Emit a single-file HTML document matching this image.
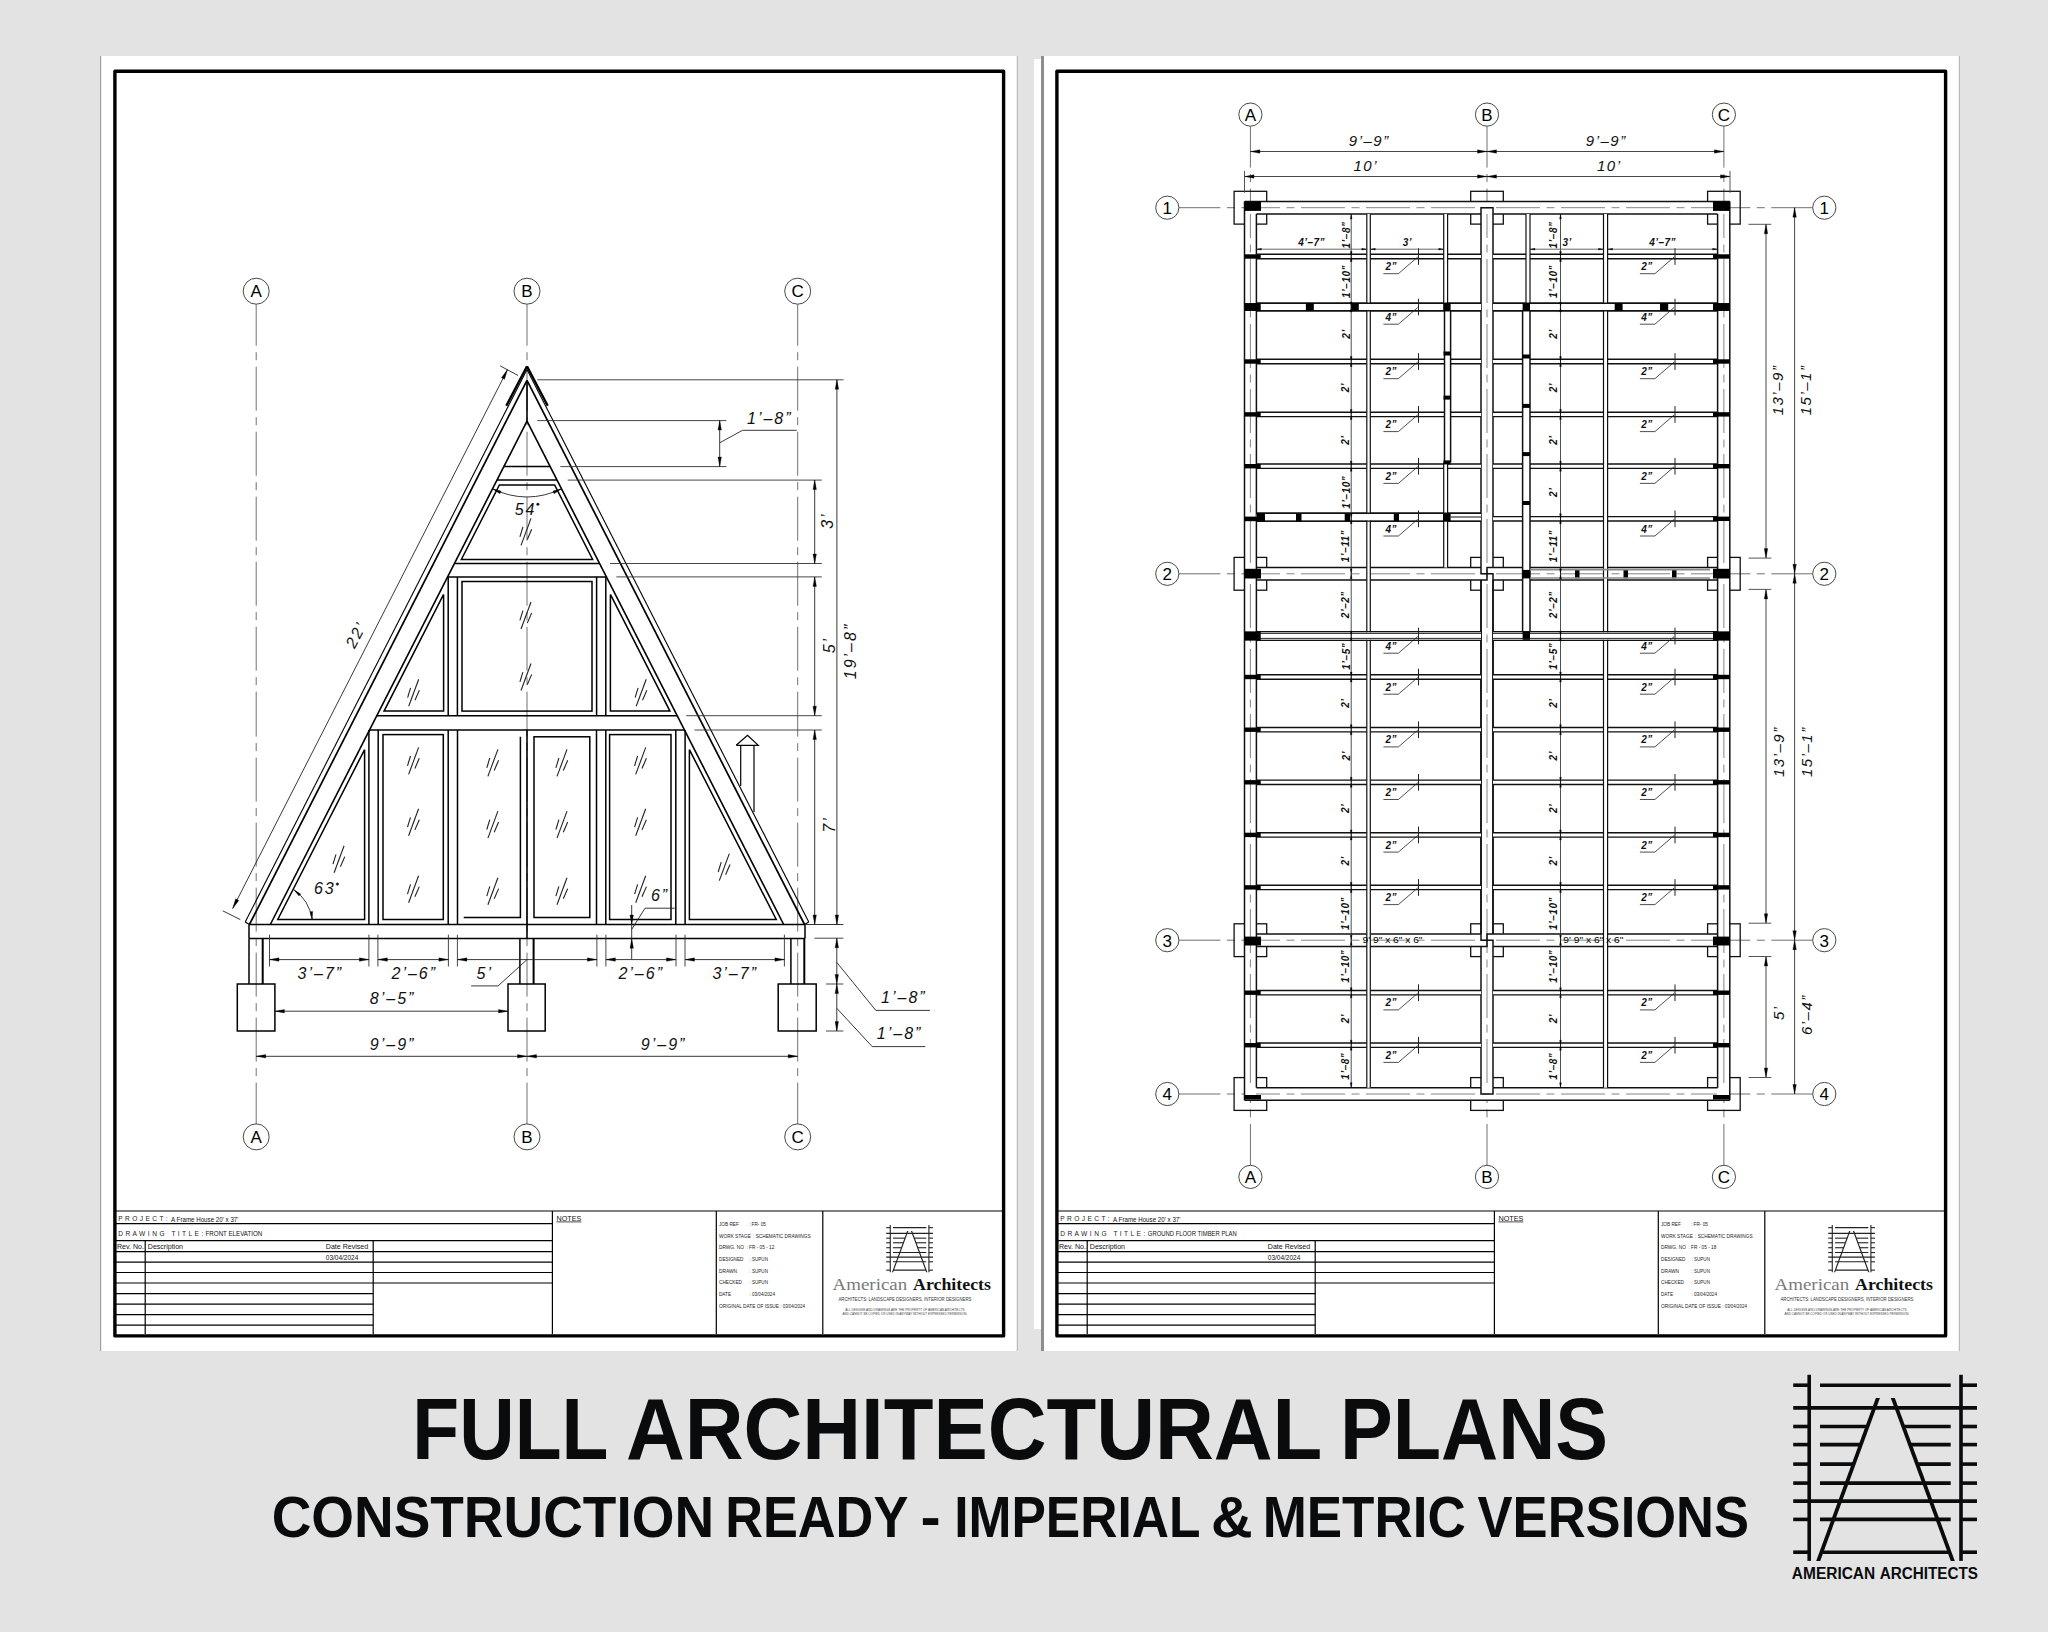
<!DOCTYPE html>
<html><head><meta charset="utf-8"><style>
html,body{margin:0;padding:0;background:#e3e3e3;width:2048px;height:1632px;overflow:hidden}
svg{display:block}
</style></head><body>
<svg width="2048" height="1632" viewBox="0 0 2048 1632">
<rect x="0" y="0" width="2048" height="1632" fill="#e3e3e3"/>
<rect x="101" y="56" width="916.5" height="1295" fill="#ffffff"/>
<line x1="100.6" y1="56" x2="100.6" y2="1351" stroke="#a0a0a0" stroke-width="1.2" />
<line x1="1017.3" y1="56" x2="1017.3" y2="1351" stroke="#b0b0b0" stroke-width="1" />
<rect x="1034" y="59" width="7" height="1270" fill="#ffffff"/>
<rect x="1044" y="56" width="915" height="1295" fill="#ffffff"/>
<line x1="1042.5" y1="56" x2="1042.5" y2="1351" stroke="#8e8e8e" stroke-width="3" />
<line x1="1959.3" y1="56" x2="1959.3" y2="1351" stroke="#b0b0b0" stroke-width="1" />
<rect x="114.9" y="71.2" width="888.7" height="1264.7" fill="none" stroke="#000" stroke-width="3.4" stroke-linejoin="round"/>
<line x1="116" y1="1211" x2="1002" y2="1211" stroke="#000" stroke-width="1.2" />
<line x1="116" y1="1223.7" x2="552.4" y2="1223.7" stroke="#000" stroke-width="1.2" />
<line x1="116" y1="1240.6" x2="552.4" y2="1240.6" stroke="#000" stroke-width="1.2" />
<line x1="116" y1="1251.6" x2="552.4" y2="1251.6" stroke="#000" stroke-width="1.2" />
<line x1="116" y1="1262.2" x2="552.4" y2="1262.2" stroke="#000" stroke-width="1.2" />
<line x1="116" y1="1272.5" x2="552.4" y2="1272.5" stroke="#000" stroke-width="1.2" />
<line x1="116" y1="1283" x2="552.4" y2="1283" stroke="#000" stroke-width="1.2" />
<line x1="116" y1="1293.6" x2="373.2" y2="1293.6" stroke="#000" stroke-width="1.2" />
<line x1="116" y1="1304.2" x2="373.2" y2="1304.2" stroke="#000" stroke-width="1.2" />
<line x1="116" y1="1314.7" x2="373.2" y2="1314.7" stroke="#000" stroke-width="1.2" />
<line x1="116" y1="1325.2" x2="373.2" y2="1325.2" stroke="#000" stroke-width="1.2" />
<line x1="145.2" y1="1240.6" x2="145.2" y2="1334" stroke="#000" stroke-width="1.2" />
<line x1="373.2" y1="1240.6" x2="373.2" y2="1334" stroke="#000" stroke-width="1.2" />
<line x1="552.4" y1="1211" x2="552.4" y2="1334" stroke="#000" stroke-width="1.2" />
<line x1="716.3" y1="1211" x2="716.3" y2="1334" stroke="#000" stroke-width="1.2" />
<line x1="822.8" y1="1211" x2="822.8" y2="1334" stroke="#000" stroke-width="1.2" />
<text x="118.3" y="1218.8" font-family="Liberation Sans" font-size="6.6" font-weight="normal" fill="#222" textLength="49.3" lengthAdjust="spacing" dominant-baseline="central" xml:space="preserve">P R O J E C T :</text>
<text x="171.1" y="1219" font-family="Liberation Sans" font-size="7" font-weight="normal" fill="#111" textLength="67.4" lengthAdjust="spacingAndGlyphs" dominant-baseline="central" xml:space="preserve">A Frame House 20' x 37'</text>
<text x="118.3" y="1233" font-family="Liberation Sans" font-size="6.6" font-weight="normal" fill="#222" textLength="85" lengthAdjust="spacing" dominant-baseline="central" xml:space="preserve">D R A W I N G   T I T L E :</text>
<text x="205.6" y="1233.3" font-family="Liberation Sans" font-size="6.6" font-weight="normal" fill="#111" textLength="56.7" lengthAdjust="spacingAndGlyphs" dominant-baseline="central" xml:space="preserve">FRONT ELEVATION</text>
<text x="117" y="1246.1" font-family="Liberation Sans" font-size="7.4" font-weight="normal" fill="#111" textLength="27" lengthAdjust="spacingAndGlyphs" dominant-baseline="central" xml:space="preserve">Rev. No.</text>
<text x="147.8" y="1246.1" font-family="Liberation Sans" font-size="7.4" font-weight="normal" fill="#111" textLength="35.2" lengthAdjust="spacingAndGlyphs" dominant-baseline="central" xml:space="preserve">Description</text>
<text x="325.8" y="1246.6" font-family="Liberation Sans" font-size="7.4" font-weight="normal" fill="#111" textLength="42.4" lengthAdjust="spacingAndGlyphs" dominant-baseline="central" xml:space="preserve">Date Revised</text>
<text x="325.8" y="1257.1" font-family="Liberation Sans" font-size="6.8" font-weight="normal" fill="#111" textLength="32.5" lengthAdjust="spacingAndGlyphs" dominant-baseline="central" xml:space="preserve">03/04/2024</text>
<text x="556.5" y="1218.4" font-family="Liberation Sans" font-size="7.4" font-weight="normal" fill="#111" textLength="24.8" lengthAdjust="spacingAndGlyphs" dominant-baseline="central" xml:space="preserve">NOTES</text>
<line x1="556.5" y1="1221.9" x2="581.3" y2="1221.9" stroke="#222" stroke-width="0.8" />
<text x="719" y="1223.8" font-family="Liberation Sans" font-size="5.2" font-weight="normal" fill="#222" textLength="19.8" lengthAdjust="spacingAndGlyphs" dominant-baseline="central" xml:space="preserve">JOB REF</text>
<text x="749" y="1223.8" font-family="Liberation Sans" font-size="5.2" font-weight="normal" fill="#222" textLength="16.9" lengthAdjust="spacingAndGlyphs" dominant-baseline="central" xml:space="preserve">: FR- 05</text>
<text x="719" y="1235.5" font-family="Liberation Sans" font-size="5.2" font-weight="normal" fill="#222" textLength="31.9" lengthAdjust="spacingAndGlyphs" dominant-baseline="central" xml:space="preserve">WORK STAGE</text>
<text x="753" y="1235.5" font-family="Liberation Sans" font-size="5.2" font-weight="normal" fill="#222" textLength="57.6" lengthAdjust="spacingAndGlyphs" dominant-baseline="central" xml:space="preserve">: SCHEMATIC DRAWINGS</text>
<text x="719" y="1247.4" font-family="Liberation Sans" font-size="5.2" font-weight="normal" fill="#222" textLength="24.9" lengthAdjust="spacingAndGlyphs" dominant-baseline="central" xml:space="preserve">DRWG. NO</text>
<text x="746.5" y="1247.4" font-family="Liberation Sans" font-size="5.2" font-weight="normal" fill="#222" textLength="27.8" lengthAdjust="spacingAndGlyphs" dominant-baseline="central" xml:space="preserve">: FR - 05 - 12</text>
<text x="719" y="1259" font-family="Liberation Sans" font-size="5.2" font-weight="normal" fill="#222" textLength="24.5" lengthAdjust="spacingAndGlyphs" dominant-baseline="central" xml:space="preserve">DESIGNED</text>
<text x="749.4" y="1259" font-family="Liberation Sans" font-size="5.2" font-weight="normal" fill="#222" textLength="18.6" lengthAdjust="spacingAndGlyphs" dominant-baseline="central" xml:space="preserve">: SUPUN</text>
<text x="719" y="1270.6" font-family="Liberation Sans" font-size="5.2" font-weight="normal" fill="#222" textLength="18" lengthAdjust="spacingAndGlyphs" dominant-baseline="central" xml:space="preserve">DRAWN</text>
<text x="749.4" y="1270.6" font-family="Liberation Sans" font-size="5.2" font-weight="normal" fill="#222" textLength="18.6" lengthAdjust="spacingAndGlyphs" dominant-baseline="central" xml:space="preserve">: SUPUN</text>
<text x="719" y="1282.4" font-family="Liberation Sans" font-size="5.2" font-weight="normal" fill="#222" textLength="23" lengthAdjust="spacingAndGlyphs" dominant-baseline="central" xml:space="preserve">CHECKED</text>
<text x="749.4" y="1282.4" font-family="Liberation Sans" font-size="5.2" font-weight="normal" fill="#222" textLength="18.6" lengthAdjust="spacingAndGlyphs" dominant-baseline="central" xml:space="preserve">: SUPUN</text>
<text x="719" y="1294.1" font-family="Liberation Sans" font-size="5.2" font-weight="normal" fill="#222" textLength="12" lengthAdjust="spacingAndGlyphs" dominant-baseline="central" xml:space="preserve">DATE</text>
<text x="749.4" y="1294.1" font-family="Liberation Sans" font-size="5.2" font-weight="normal" fill="#222" textLength="25.6" lengthAdjust="spacingAndGlyphs" dominant-baseline="central" xml:space="preserve">: 03/04/2024</text>
<text x="719" y="1305.7" font-family="Liberation Sans" font-size="5.2" font-weight="normal" fill="#222" textLength="60" lengthAdjust="spacingAndGlyphs" dominant-baseline="central" xml:space="preserve">ORIGINAL DATE OF ISSUE</text>
<text x="780.2" y="1305.7" font-family="Liberation Sans" font-size="5.2" font-weight="normal" fill="#222" textLength="24.8" lengthAdjust="spacingAndGlyphs" dominant-baseline="central" xml:space="preserve">: 03/04/2024</text>
<line x1="890.27" y1="1225" x2="890.27" y2="1272.36" stroke="#222" stroke-width="1.1" />
<line x1="928.91" y1="1225" x2="928.91" y2="1272.36" stroke="#222" stroke-width="1.1" />
<line x1="886.2" y1="1227.65" x2="890.27" y2="1227.65" stroke="#222" stroke-width="1.1" />
<line x1="928.91" y1="1227.65" x2="932.98" y2="1227.65" stroke="#222" stroke-width="1.1" />
<line x1="893.02" y1="1227.65" x2="926.28" y2="1227.65" stroke="#222" stroke-width="1.1" />
<line x1="886.2" y1="1233.42" x2="932.98" y2="1233.42" stroke="#222" stroke-width="1.1" />
<line x1="886.2" y1="1238.16" x2="890.27" y2="1238.16" stroke="#222" stroke-width="1.1" />
<line x1="928.91" y1="1238.16" x2="932.98" y2="1238.16" stroke="#222" stroke-width="1.1" />
<line x1="893.02" y1="1238.16" x2="905.11" y2="1238.16" stroke="#222" stroke-width="1.1" />
<line x1="914.21" y1="1238.16" x2="926.28" y2="1238.16" stroke="#222" stroke-width="1.1" />
<line x1="886.2" y1="1242.76" x2="890.27" y2="1242.76" stroke="#222" stroke-width="1.1" />
<line x1="928.91" y1="1242.76" x2="932.98" y2="1242.76" stroke="#222" stroke-width="1.1" />
<line x1="893.02" y1="1242.76" x2="903.42" y2="1242.76" stroke="#222" stroke-width="1.1" />
<line x1="915.91" y1="1242.76" x2="926.28" y2="1242.76" stroke="#222" stroke-width="1.1" />
<line x1="886.2" y1="1247.73" x2="890.27" y2="1247.73" stroke="#222" stroke-width="1.1" />
<line x1="928.91" y1="1247.73" x2="932.98" y2="1247.73" stroke="#222" stroke-width="1.1" />
<line x1="893.02" y1="1247.73" x2="901.6" y2="1247.73" stroke="#222" stroke-width="1.1" />
<line x1="917.74" y1="1247.73" x2="926.28" y2="1247.73" stroke="#222" stroke-width="1.1" />
<line x1="886.2" y1="1252.56" x2="890.27" y2="1252.56" stroke="#222" stroke-width="1.1" />
<line x1="928.91" y1="1252.56" x2="932.98" y2="1252.56" stroke="#222" stroke-width="1.1" />
<line x1="893.02" y1="1252.56" x2="926.28" y2="1252.56" stroke="#222" stroke-width="1.1" />
<line x1="886.2" y1="1257.14" x2="932.98" y2="1257.14" stroke="#222" stroke-width="1.1" />
<line x1="886.2" y1="1261.8" x2="890.27" y2="1261.8" stroke="#222" stroke-width="1.1" />
<line x1="928.91" y1="1261.8" x2="932.98" y2="1261.8" stroke="#222" stroke-width="1.1" />
<line x1="893.02" y1="1261.8" x2="926.28" y2="1261.8" stroke="#222" stroke-width="1.1" />
<line x1="886.2" y1="1270.15" x2="890.27" y2="1270.15" stroke="#222" stroke-width="1.1" />
<line x1="928.91" y1="1270.15" x2="932.98" y2="1270.15" stroke="#222" stroke-width="1.1" />
<line x1="893.37" y1="1270.15" x2="926" y2="1270.15" stroke="#222" stroke-width="1.1" />
<polygon points="907.14,1230.93 908.37,1230.93 893.18,1272.36 891.95,1272.36" fill="#222" stroke="#222" stroke-width="0.01" />
<polygon points="910.93,1230.93 912.16,1230.93 927.43,1272.36 926.2,1272.36" fill="#222" stroke="#222" stroke-width="0.01" />
<text x="832.6" y="1290" font-family="Liberation Serif" font-size="16.2" fill="#7a7a7a" textLength="74.6" lengthAdjust="spacingAndGlyphs">American</text>
<text x="913" y="1290" font-family="Liberation Serif" font-weight="bold" font-size="16.2" fill="#111" textLength="78" lengthAdjust="spacingAndGlyphs">Architects</text>
<text x="838.4" y="1299.8" font-family="Liberation Sans" font-size="4.6" font-weight="normal" fill="#333" textLength="133.1" lengthAdjust="spacingAndGlyphs" dominant-baseline="central" xml:space="preserve">ARCHITECTS: LANDSCAPE DESIGNERS, INTERIOR DESIGNERS</text>
<text x="845.3" y="1309.5" font-family="Liberation Sans" font-size="3.4" font-weight="normal" fill="#444" textLength="119.3" lengthAdjust="spacingAndGlyphs" dominant-baseline="central" xml:space="preserve">ALL DESIGNS AND DRAWINGS ARE THE PROPERTY OF AMERICAN ARCHITECTS</text>
<text x="842.5" y="1314.1" font-family="Liberation Sans" font-size="3.4" font-weight="normal" fill="#444" textLength="124.9" lengthAdjust="spacingAndGlyphs" dominant-baseline="central" xml:space="preserve">AND CANNOT BE COPIED OR USED IN ANYWAY WITHOUT EXPRESSED PERMISSION.</text>
<rect x="1056.9" y="71.2" width="888.7" height="1264.7" fill="none" stroke="#000" stroke-width="3.4" stroke-linejoin="round"/>
<line x1="1058" y1="1211" x2="1944" y2="1211" stroke="#000" stroke-width="1.2" />
<line x1="1058" y1="1223.7" x2="1494.4" y2="1223.7" stroke="#000" stroke-width="1.2" />
<line x1="1058" y1="1240.6" x2="1494.4" y2="1240.6" stroke="#000" stroke-width="1.2" />
<line x1="1058" y1="1251.6" x2="1494.4" y2="1251.6" stroke="#000" stroke-width="1.2" />
<line x1="1058" y1="1262.2" x2="1494.4" y2="1262.2" stroke="#000" stroke-width="1.2" />
<line x1="1058" y1="1272.5" x2="1494.4" y2="1272.5" stroke="#000" stroke-width="1.2" />
<line x1="1058" y1="1283" x2="1494.4" y2="1283" stroke="#000" stroke-width="1.2" />
<line x1="1058" y1="1293.6" x2="1315.2" y2="1293.6" stroke="#000" stroke-width="1.2" />
<line x1="1058" y1="1304.2" x2="1315.2" y2="1304.2" stroke="#000" stroke-width="1.2" />
<line x1="1058" y1="1314.7" x2="1315.2" y2="1314.7" stroke="#000" stroke-width="1.2" />
<line x1="1058" y1="1325.2" x2="1315.2" y2="1325.2" stroke="#000" stroke-width="1.2" />
<line x1="1087.2" y1="1240.6" x2="1087.2" y2="1334" stroke="#000" stroke-width="1.2" />
<line x1="1315.2" y1="1240.6" x2="1315.2" y2="1334" stroke="#000" stroke-width="1.2" />
<line x1="1494.4" y1="1211" x2="1494.4" y2="1334" stroke="#000" stroke-width="1.2" />
<line x1="1658.3" y1="1211" x2="1658.3" y2="1334" stroke="#000" stroke-width="1.2" />
<line x1="1764.8" y1="1211" x2="1764.8" y2="1334" stroke="#000" stroke-width="1.2" />
<text x="1060.3" y="1218.8" font-family="Liberation Sans" font-size="6.6" font-weight="normal" fill="#222" textLength="49.3" lengthAdjust="spacing" dominant-baseline="central" xml:space="preserve">P R O J E C T :</text>
<text x="1113.1" y="1219" font-family="Liberation Sans" font-size="7" font-weight="normal" fill="#111" textLength="67.4" lengthAdjust="spacingAndGlyphs" dominant-baseline="central" xml:space="preserve">A Frame House 20' x 37'</text>
<text x="1060.3" y="1233" font-family="Liberation Sans" font-size="6.6" font-weight="normal" fill="#222" textLength="85" lengthAdjust="spacing" dominant-baseline="central" xml:space="preserve">D R A W I N G   T I T L E :</text>
<text x="1147.8" y="1233.3" font-family="Liberation Sans" font-size="6.6" font-weight="normal" fill="#111" textLength="89" lengthAdjust="spacingAndGlyphs" dominant-baseline="central" xml:space="preserve">GROUND FLOOR TIMBER PLAN</text>
<text x="1059" y="1246.1" font-family="Liberation Sans" font-size="7.4" font-weight="normal" fill="#111" textLength="27" lengthAdjust="spacingAndGlyphs" dominant-baseline="central" xml:space="preserve">Rev. No.</text>
<text x="1089.8" y="1246.1" font-family="Liberation Sans" font-size="7.4" font-weight="normal" fill="#111" textLength="35.2" lengthAdjust="spacingAndGlyphs" dominant-baseline="central" xml:space="preserve">Description</text>
<text x="1267.8" y="1246.6" font-family="Liberation Sans" font-size="7.4" font-weight="normal" fill="#111" textLength="42.4" lengthAdjust="spacingAndGlyphs" dominant-baseline="central" xml:space="preserve">Date Revised</text>
<text x="1267.8" y="1257.1" font-family="Liberation Sans" font-size="6.8" font-weight="normal" fill="#111" textLength="32.5" lengthAdjust="spacingAndGlyphs" dominant-baseline="central" xml:space="preserve">03/04/2024</text>
<text x="1498.5" y="1218.4" font-family="Liberation Sans" font-size="7.4" font-weight="normal" fill="#111" textLength="24.8" lengthAdjust="spacingAndGlyphs" dominant-baseline="central" xml:space="preserve">NOTES</text>
<line x1="1498.5" y1="1221.9" x2="1523.3" y2="1221.9" stroke="#222" stroke-width="0.8" />
<text x="1661" y="1223.8" font-family="Liberation Sans" font-size="5.2" font-weight="normal" fill="#222" textLength="19.8" lengthAdjust="spacingAndGlyphs" dominant-baseline="central" xml:space="preserve">JOB REF</text>
<text x="1691" y="1223.8" font-family="Liberation Sans" font-size="5.2" font-weight="normal" fill="#222" textLength="16.9" lengthAdjust="spacingAndGlyphs" dominant-baseline="central" xml:space="preserve">: FR- 05</text>
<text x="1661" y="1235.5" font-family="Liberation Sans" font-size="5.2" font-weight="normal" fill="#222" textLength="31.9" lengthAdjust="spacingAndGlyphs" dominant-baseline="central" xml:space="preserve">WORK STAGE</text>
<text x="1695" y="1235.5" font-family="Liberation Sans" font-size="5.2" font-weight="normal" fill="#222" textLength="57.6" lengthAdjust="spacingAndGlyphs" dominant-baseline="central" xml:space="preserve">: SCHEMATIC DRAWINGS</text>
<text x="1661" y="1247.4" font-family="Liberation Sans" font-size="5.2" font-weight="normal" fill="#222" textLength="24.9" lengthAdjust="spacingAndGlyphs" dominant-baseline="central" xml:space="preserve">DRWG. NO</text>
<text x="1688.5" y="1247.4" font-family="Liberation Sans" font-size="5.2" font-weight="normal" fill="#222" textLength="27.8" lengthAdjust="spacingAndGlyphs" dominant-baseline="central" xml:space="preserve">: FR - 05 - 18</text>
<text x="1661" y="1259" font-family="Liberation Sans" font-size="5.2" font-weight="normal" fill="#222" textLength="24.5" lengthAdjust="spacingAndGlyphs" dominant-baseline="central" xml:space="preserve">DESIGNED</text>
<text x="1691.4" y="1259" font-family="Liberation Sans" font-size="5.2" font-weight="normal" fill="#222" textLength="18.6" lengthAdjust="spacingAndGlyphs" dominant-baseline="central" xml:space="preserve">: SUPUN</text>
<text x="1661" y="1270.6" font-family="Liberation Sans" font-size="5.2" font-weight="normal" fill="#222" textLength="18" lengthAdjust="spacingAndGlyphs" dominant-baseline="central" xml:space="preserve">DRAWN</text>
<text x="1691.4" y="1270.6" font-family="Liberation Sans" font-size="5.2" font-weight="normal" fill="#222" textLength="18.6" lengthAdjust="spacingAndGlyphs" dominant-baseline="central" xml:space="preserve">: SUPUN</text>
<text x="1661" y="1282.4" font-family="Liberation Sans" font-size="5.2" font-weight="normal" fill="#222" textLength="23" lengthAdjust="spacingAndGlyphs" dominant-baseline="central" xml:space="preserve">CHECKED</text>
<text x="1691.4" y="1282.4" font-family="Liberation Sans" font-size="5.2" font-weight="normal" fill="#222" textLength="18.6" lengthAdjust="spacingAndGlyphs" dominant-baseline="central" xml:space="preserve">: SUPUN</text>
<text x="1661" y="1294.1" font-family="Liberation Sans" font-size="5.2" font-weight="normal" fill="#222" textLength="12" lengthAdjust="spacingAndGlyphs" dominant-baseline="central" xml:space="preserve">DATE</text>
<text x="1691.4" y="1294.1" font-family="Liberation Sans" font-size="5.2" font-weight="normal" fill="#222" textLength="25.6" lengthAdjust="spacingAndGlyphs" dominant-baseline="central" xml:space="preserve">: 03/04/2024</text>
<text x="1661" y="1305.7" font-family="Liberation Sans" font-size="5.2" font-weight="normal" fill="#222" textLength="60" lengthAdjust="spacingAndGlyphs" dominant-baseline="central" xml:space="preserve">ORIGINAL DATE OF ISSUE</text>
<text x="1722.2" y="1305.7" font-family="Liberation Sans" font-size="5.2" font-weight="normal" fill="#222" textLength="24.8" lengthAdjust="spacingAndGlyphs" dominant-baseline="central" xml:space="preserve">: 03/04/2024</text>
<line x1="1832.27" y1="1225" x2="1832.27" y2="1272.36" stroke="#222" stroke-width="1.1" />
<line x1="1870.91" y1="1225" x2="1870.91" y2="1272.36" stroke="#222" stroke-width="1.1" />
<line x1="1828.2" y1="1227.65" x2="1832.27" y2="1227.65" stroke="#222" stroke-width="1.1" />
<line x1="1870.91" y1="1227.65" x2="1874.98" y2="1227.65" stroke="#222" stroke-width="1.1" />
<line x1="1835.02" y1="1227.65" x2="1868.28" y2="1227.65" stroke="#222" stroke-width="1.1" />
<line x1="1828.2" y1="1233.42" x2="1874.98" y2="1233.42" stroke="#222" stroke-width="1.1" />
<line x1="1828.2" y1="1238.16" x2="1832.27" y2="1238.16" stroke="#222" stroke-width="1.1" />
<line x1="1870.91" y1="1238.16" x2="1874.98" y2="1238.16" stroke="#222" stroke-width="1.1" />
<line x1="1835.02" y1="1238.16" x2="1847.11" y2="1238.16" stroke="#222" stroke-width="1.1" />
<line x1="1856.21" y1="1238.16" x2="1868.28" y2="1238.16" stroke="#222" stroke-width="1.1" />
<line x1="1828.2" y1="1242.76" x2="1832.27" y2="1242.76" stroke="#222" stroke-width="1.1" />
<line x1="1870.91" y1="1242.76" x2="1874.98" y2="1242.76" stroke="#222" stroke-width="1.1" />
<line x1="1835.02" y1="1242.76" x2="1845.42" y2="1242.76" stroke="#222" stroke-width="1.1" />
<line x1="1857.91" y1="1242.76" x2="1868.28" y2="1242.76" stroke="#222" stroke-width="1.1" />
<line x1="1828.2" y1="1247.73" x2="1832.27" y2="1247.73" stroke="#222" stroke-width="1.1" />
<line x1="1870.91" y1="1247.73" x2="1874.98" y2="1247.73" stroke="#222" stroke-width="1.1" />
<line x1="1835.02" y1="1247.73" x2="1843.6" y2="1247.73" stroke="#222" stroke-width="1.1" />
<line x1="1859.74" y1="1247.73" x2="1868.28" y2="1247.73" stroke="#222" stroke-width="1.1" />
<line x1="1828.2" y1="1252.56" x2="1832.27" y2="1252.56" stroke="#222" stroke-width="1.1" />
<line x1="1870.91" y1="1252.56" x2="1874.98" y2="1252.56" stroke="#222" stroke-width="1.1" />
<line x1="1835.02" y1="1252.56" x2="1868.28" y2="1252.56" stroke="#222" stroke-width="1.1" />
<line x1="1828.2" y1="1257.14" x2="1874.98" y2="1257.14" stroke="#222" stroke-width="1.1" />
<line x1="1828.2" y1="1261.8" x2="1832.27" y2="1261.8" stroke="#222" stroke-width="1.1" />
<line x1="1870.91" y1="1261.8" x2="1874.98" y2="1261.8" stroke="#222" stroke-width="1.1" />
<line x1="1835.02" y1="1261.8" x2="1868.28" y2="1261.8" stroke="#222" stroke-width="1.1" />
<line x1="1828.2" y1="1270.15" x2="1832.27" y2="1270.15" stroke="#222" stroke-width="1.1" />
<line x1="1870.91" y1="1270.15" x2="1874.98" y2="1270.15" stroke="#222" stroke-width="1.1" />
<line x1="1835.37" y1="1270.15" x2="1868" y2="1270.15" stroke="#222" stroke-width="1.1" />
<polygon points="1849.14,1230.93 1850.37,1230.93 1835.18,1272.36 1833.95,1272.36" fill="#222" stroke="#222" stroke-width="0.01" />
<polygon points="1852.93,1230.93 1854.16,1230.93 1869.43,1272.36 1868.2,1272.36" fill="#222" stroke="#222" stroke-width="0.01" />
<text x="1774.6" y="1290" font-family="Liberation Serif" font-size="16.2" fill="#7a7a7a" textLength="74.6" lengthAdjust="spacingAndGlyphs">American</text>
<text x="1855" y="1290" font-family="Liberation Serif" font-weight="bold" font-size="16.2" fill="#111" textLength="78" lengthAdjust="spacingAndGlyphs">Architects</text>
<text x="1780.4" y="1299.8" font-family="Liberation Sans" font-size="4.6" font-weight="normal" fill="#333" textLength="133.1" lengthAdjust="spacingAndGlyphs" dominant-baseline="central" xml:space="preserve">ARCHITECTS: LANDSCAPE DESIGNERS, INTERIOR DESIGNERS</text>
<text x="1787.3" y="1309.5" font-family="Liberation Sans" font-size="3.4" font-weight="normal" fill="#444" textLength="119.3" lengthAdjust="spacingAndGlyphs" dominant-baseline="central" xml:space="preserve">ALL DESIGNS AND DRAWINGS ARE THE PROPERTY OF AMERICAN ARCHITECTS</text>
<text x="1784.5" y="1314.1" font-family="Liberation Sans" font-size="3.4" font-weight="normal" fill="#444" textLength="124.9" lengthAdjust="spacingAndGlyphs" dominant-baseline="central" xml:space="preserve">AND CANNOT BE COPIED OR USED IN ANYWAY WITHOUT EXPRESSED PERMISSION.</text>
<line x1="256.2" y1="304.3" x2="256.2" y2="714.15" stroke="#707070" stroke-width="1" stroke-dasharray="44 6.5 8 6.5" stroke-dashoffset="2.6"/>
<line x1="256.2" y1="1124" x2="256.2" y2="714.15" stroke="#707070" stroke-width="1" stroke-dasharray="44 6.5 8 6.5" stroke-dashoffset="2.6"/>
<circle cx="256.2" cy="291.2" r="13" fill="#fff" stroke="#333" stroke-width="0.9"/>
<text x="256.2" y="291.8" font-family="Liberation Sans" font-size="17" font-weight="normal" font-style="normal" text-anchor="middle" dominant-baseline="central" fill="#000" >A</text>
<circle cx="256.2" cy="1136.9" r="13" fill="#fff" stroke="#333" stroke-width="0.9"/>
<text x="256.2" y="1137.5" font-family="Liberation Sans" font-size="17" font-weight="normal" font-style="normal" text-anchor="middle" dominant-baseline="central" fill="#000" >A</text>
<line x1="527" y1="304.3" x2="527" y2="714.15" stroke="#707070" stroke-width="1" stroke-dasharray="44 6.5 8 6.5" stroke-dashoffset="2.6"/>
<line x1="527" y1="1124" x2="527" y2="714.15" stroke="#707070" stroke-width="1" stroke-dasharray="44 6.5 8 6.5" stroke-dashoffset="2.6"/>
<circle cx="527" cy="291.2" r="13" fill="#fff" stroke="#333" stroke-width="0.9"/>
<text x="527" y="291.8" font-family="Liberation Sans" font-size="17" font-weight="normal" font-style="normal" text-anchor="middle" dominant-baseline="central" fill="#000" >B</text>
<circle cx="527" cy="1136.9" r="13" fill="#fff" stroke="#333" stroke-width="0.9"/>
<text x="527" y="1137.5" font-family="Liberation Sans" font-size="17" font-weight="normal" font-style="normal" text-anchor="middle" dominant-baseline="central" fill="#000" >B</text>
<line x1="797.7" y1="304.3" x2="797.7" y2="714.15" stroke="#707070" stroke-width="1" stroke-dasharray="44 6.5 8 6.5" stroke-dashoffset="2.6"/>
<line x1="797.7" y1="1124" x2="797.7" y2="714.15" stroke="#707070" stroke-width="1" stroke-dasharray="44 6.5 8 6.5" stroke-dashoffset="2.6"/>
<circle cx="797.7" cy="291.2" r="13" fill="#fff" stroke="#333" stroke-width="0.9"/>
<text x="797.7" y="291.8" font-family="Liberation Sans" font-size="17" font-weight="normal" font-style="normal" text-anchor="middle" dominant-baseline="central" fill="#000" >C</text>
<circle cx="797.7" cy="1136.9" r="13" fill="#fff" stroke="#333" stroke-width="0.9"/>
<text x="797.7" y="1137.5" font-family="Liberation Sans" font-size="17" font-weight="normal" font-style="normal" text-anchor="middle" dominant-baseline="central" fill="#000" >C</text>
<polyline points="245.23,922 527,369.5" fill="none" stroke="#000" stroke-width="1.1" />
<polyline points="808.77,922 527,369.5" fill="none" stroke="#000" stroke-width="1.1" />
<polyline points="245.23,922 249.46,924.5" fill="none" stroke="#000" stroke-width="1.1" />
<polyline points="808.77,922 804.54,924.5" fill="none" stroke="#000" stroke-width="1.1" />
<polyline points="249.46,924.5 527,380.3" fill="none" stroke="#000" stroke-width="1.7" />
<polyline points="804.54,924.5 527,380.3" fill="none" stroke="#000" stroke-width="1.7" />
<polyline points="506.3,405.8 527,366.2" fill="none" stroke="#000" stroke-width="2.3" />
<polyline points="547.7,405.8 527,366.2" fill="none" stroke="#000" stroke-width="2.3" />
<line x1="527" y1="382.3" x2="527" y2="421.2" stroke="#000" stroke-width="1.6" />
<polyline points="270.32,924.5 527,421.2" fill="none" stroke="#000" stroke-width="1.6" />
<polyline points="783.68,924.5 527,421.2" fill="none" stroke="#000" stroke-width="1.6" />
<line x1="503.85" y1="466.6" x2="550.15" y2="466.6" stroke="#000" stroke-width="1.5" />
<line x1="496.96" y1="480.1" x2="557.04" y2="480.1" stroke="#000" stroke-width="1.5" />
<line x1="454.43" y1="563.5" x2="599.57" y2="563.5" stroke="#000" stroke-width="1.5" />
<line x1="447.59" y1="576.9" x2="606.41" y2="576.9" stroke="#000" stroke-width="1.5" />
<line x1="376.8" y1="715.7" x2="677.2" y2="715.7" stroke="#000" stroke-width="1.5" />
<line x1="369.51" y1="730" x2="684.49" y2="730" stroke="#000" stroke-width="1.5" />
<polygon points="499.36,485 461.36,559.5 592.64,559.5 554.64,485" fill="none" stroke="#000" stroke-width="1.5" />
<polyline points="448.2,576.9 448.2,715.7" fill="none" stroke="#000" stroke-width="1.5" />
<polyline points="605.8,576.9 605.8,715.7" fill="none" stroke="#000" stroke-width="1.5" />
<polyline points="457.4,576.9 457.4,715.7" fill="none" stroke="#000" stroke-width="1.5" />
<polyline points="596.6,576.9 596.6,715.7" fill="none" stroke="#000" stroke-width="1.5" />
<rect x="462" y="581.5" width="130" height="129.6" fill="none" stroke="#000" stroke-width="1.5" />
<polyline points="443.6,594.4 443.6,711.1 384.05,711.1 443.6,594.4" fill="none" stroke="#000" stroke-width="1.5" />
<polyline points="610.4,594.4 610.4,711.1 669.95,711.1 610.4,594.4" fill="none" stroke="#000" stroke-width="1.5" />
<polyline points="368.9,730 368.9,924.5" fill="none" stroke="#000" stroke-width="1.5" />
<polyline points="685.1,730 685.1,924.5" fill="none" stroke="#000" stroke-width="1.5" />
<polyline points="378.2,730 378.2,924.5" fill="none" stroke="#000" stroke-width="1.5" />
<polyline points="675.8,730 675.8,924.5" fill="none" stroke="#000" stroke-width="1.5" />
<polyline points="448.2,730 448.2,924.5" fill="none" stroke="#000" stroke-width="1.5" />
<polyline points="605.8,730 605.8,924.5" fill="none" stroke="#000" stroke-width="1.5" />
<polyline points="457.5,730 457.5,924.5" fill="none" stroke="#000" stroke-width="1.5" />
<polyline points="596.5,730 596.5,924.5" fill="none" stroke="#000" stroke-width="1.5" />
<line x1="527" y1="730" x2="527" y2="938.5" stroke="#000" stroke-width="1.6" />
<rect x="383" y="734.6" width="60.3" height="184.9" fill="none" stroke="#000" stroke-width="1.5" />
<polyline points="463.7,917.5 520.4,917.5 520.4,736.8" fill="none" stroke="#000" stroke-width="1.5" />
<rect x="534" y="736.8" width="55.8" height="180.7" fill="none" stroke="#000" stroke-width="1.5" />
<rect x="609.6" y="734.6" width="61.4" height="184.9" fill="none" stroke="#000" stroke-width="1.5" />
<polyline points="364.6,749.6 364.6,919.5 277.76,919.5 364.6,749.6" fill="none" stroke="#000" stroke-width="1.5" />
<polyline points="689.4,749.6 689.4,919.5 776.24,919.5 689.4,749.6" fill="none" stroke="#000" stroke-width="1.5" />
<line x1="249" y1="924.5" x2="805" y2="924.5" stroke="#000" stroke-width="1.7" />
<line x1="249" y1="938.5" x2="805" y2="938.5" stroke="#000" stroke-width="1.7" />
<line x1="249" y1="924.5" x2="249" y2="938.5" stroke="#000" stroke-width="1.5" />
<line x1="805" y1="924.5" x2="805" y2="938.5" stroke="#000" stroke-width="1.5" />
<line x1="249" y1="938.5" x2="249" y2="984" stroke="#000" stroke-width="1.5" />
<line x1="262.7" y1="938.5" x2="262.7" y2="984" stroke="#000" stroke-width="2" />
<line x1="519.9" y1="938.5" x2="519.9" y2="984" stroke="#000" stroke-width="1.5" />
<line x1="533.6" y1="938.5" x2="533.6" y2="984" stroke="#000" stroke-width="2" />
<line x1="790.9" y1="938.5" x2="790.9" y2="984" stroke="#000" stroke-width="1.5" />
<line x1="804.3" y1="938.5" x2="804.3" y2="984" stroke="#000" stroke-width="2" />
<rect x="237.3" y="984" width="37.6" height="47" fill="none" stroke="#000" stroke-width="1.5" />
<rect x="508" y="984" width="37.2" height="47" fill="none" stroke="#000" stroke-width="1.5" />
<rect x="778.2" y="984" width="38" height="47" fill="none" stroke="#000" stroke-width="1.5" />
<polyline points="740.7,786 740.7,745.3" fill="none" stroke="#000" stroke-width="1.2" />
<polyline points="754,811.9 754,745.3" fill="none" stroke="#000" stroke-width="1.2" />
<polyline points="736.2,745.3 747.5,735.4 758.3,745.3 736.2,745.3" fill="none" stroke="#000" stroke-width="1.2" />
<line x1="418.6" y1="747.4" x2="408.6" y2="774.4" stroke="#222" stroke-width="1.1" />
<line x1="410.5" y1="756" x2="407.5" y2="765.8" stroke="#222" stroke-width="1.1" />
<line x1="419.3" y1="758.3" x2="414.9" y2="768.5" stroke="#222" stroke-width="1.1" />
<line x1="418.6" y1="808.8" x2="408.6" y2="835.8" stroke="#222" stroke-width="1.1" />
<line x1="410.5" y1="817.4" x2="407.5" y2="827.2" stroke="#222" stroke-width="1.1" />
<line x1="419.3" y1="819.7" x2="414.9" y2="829.9" stroke="#222" stroke-width="1.1" />
<line x1="418.6" y1="875.7" x2="408.6" y2="902.7" stroke="#222" stroke-width="1.1" />
<line x1="410.5" y1="884.3" x2="407.5" y2="894.1" stroke="#222" stroke-width="1.1" />
<line x1="419.3" y1="886.6" x2="414.9" y2="896.8" stroke="#222" stroke-width="1.1" />
<line x1="497.9" y1="749.4" x2="487.9" y2="776.4" stroke="#222" stroke-width="1.1" />
<line x1="489.8" y1="758" x2="486.8" y2="767.8" stroke="#222" stroke-width="1.1" />
<line x1="498.6" y1="760.3" x2="494.2" y2="770.5" stroke="#222" stroke-width="1.1" />
<line x1="497.9" y1="811.1" x2="487.9" y2="838.1" stroke="#222" stroke-width="1.1" />
<line x1="489.8" y1="819.7" x2="486.8" y2="829.5" stroke="#222" stroke-width="1.1" />
<line x1="498.6" y1="822" x2="494.2" y2="832.2" stroke="#222" stroke-width="1.1" />
<line x1="497.9" y1="877.7" x2="487.9" y2="904.7" stroke="#222" stroke-width="1.1" />
<line x1="489.8" y1="886.3" x2="486.8" y2="896.1" stroke="#222" stroke-width="1.1" />
<line x1="498.6" y1="888.6" x2="494.2" y2="898.8" stroke="#222" stroke-width="1.1" />
<line x1="567" y1="749.4" x2="557" y2="776.4" stroke="#222" stroke-width="1.1" />
<line x1="558.9" y1="758" x2="555.9" y2="767.8" stroke="#222" stroke-width="1.1" />
<line x1="567.7" y1="760.3" x2="563.3" y2="770.5" stroke="#222" stroke-width="1.1" />
<line x1="567" y1="811.1" x2="557" y2="838.1" stroke="#222" stroke-width="1.1" />
<line x1="558.9" y1="819.7" x2="555.9" y2="829.5" stroke="#222" stroke-width="1.1" />
<line x1="567.7" y1="822" x2="563.3" y2="832.2" stroke="#222" stroke-width="1.1" />
<line x1="567" y1="877.7" x2="557" y2="904.7" stroke="#222" stroke-width="1.1" />
<line x1="558.9" y1="886.3" x2="555.9" y2="896.1" stroke="#222" stroke-width="1.1" />
<line x1="567.7" y1="888.6" x2="563.3" y2="898.8" stroke="#222" stroke-width="1.1" />
<line x1="645.7" y1="747.4" x2="635.7" y2="774.4" stroke="#222" stroke-width="1.1" />
<line x1="637.6" y1="756" x2="634.6" y2="765.8" stroke="#222" stroke-width="1.1" />
<line x1="646.4" y1="758.3" x2="642" y2="768.5" stroke="#222" stroke-width="1.1" />
<line x1="645.7" y1="808.8" x2="635.7" y2="835.8" stroke="#222" stroke-width="1.1" />
<line x1="637.6" y1="817.4" x2="634.6" y2="827.2" stroke="#222" stroke-width="1.1" />
<line x1="646.4" y1="819.7" x2="642" y2="829.9" stroke="#222" stroke-width="1.1" />
<line x1="645.7" y1="875.7" x2="635.7" y2="902.7" stroke="#222" stroke-width="1.1" />
<line x1="637.6" y1="884.3" x2="634.6" y2="894.1" stroke="#222" stroke-width="1.1" />
<line x1="646.4" y1="886.6" x2="642" y2="896.8" stroke="#222" stroke-width="1.1" />
<line x1="344.1" y1="845.7" x2="334.1" y2="872.7" stroke="#222" stroke-width="1.1" />
<line x1="336" y1="854.3" x2="333" y2="864.1" stroke="#222" stroke-width="1.1" />
<line x1="344.8" y1="856.6" x2="340.4" y2="866.8" stroke="#222" stroke-width="1.1" />
<line x1="729.3" y1="853.6" x2="719.3" y2="880.6" stroke="#222" stroke-width="1.1" />
<line x1="721.2" y1="862.2" x2="718.2" y2="872" stroke="#222" stroke-width="1.1" />
<line x1="730" y1="864.5" x2="725.6" y2="874.7" stroke="#222" stroke-width="1.1" />
<line x1="531" y1="518.4" x2="521" y2="545.4" stroke="#222" stroke-width="1.1" />
<line x1="522.9" y1="527" x2="519.9" y2="536.8" stroke="#222" stroke-width="1.1" />
<line x1="531.7" y1="529.3" x2="527.3" y2="539.5" stroke="#222" stroke-width="1.1" />
<line x1="531" y1="602" x2="521" y2="629" stroke="#222" stroke-width="1.1" />
<line x1="522.9" y1="610.6" x2="519.9" y2="620.4" stroke="#222" stroke-width="1.1" />
<line x1="531.7" y1="612.9" x2="527.3" y2="623.1" stroke="#222" stroke-width="1.1" />
<line x1="531" y1="663.5" x2="521" y2="690.5" stroke="#222" stroke-width="1.1" />
<line x1="522.9" y1="672.1" x2="519.9" y2="681.9" stroke="#222" stroke-width="1.1" />
<line x1="531.7" y1="674.4" x2="527.3" y2="684.6" stroke="#222" stroke-width="1.1" />
<line x1="418.7" y1="679.2" x2="408.7" y2="706.2" stroke="#222" stroke-width="1.1" />
<line x1="410.6" y1="687.8" x2="407.6" y2="697.6" stroke="#222" stroke-width="1.1" />
<line x1="419.4" y1="690.1" x2="415" y2="700.3" stroke="#222" stroke-width="1.1" />
<line x1="646.2" y1="679.2" x2="636.2" y2="706.2" stroke="#222" stroke-width="1.1" />
<line x1="638.1" y1="687.8" x2="635.1" y2="697.6" stroke="#222" stroke-width="1.1" />
<line x1="646.9" y1="690.1" x2="642.5" y2="700.3" stroke="#222" stroke-width="1.1" />
<line x1="269.5" y1="934.7" x2="269.5" y2="966.5" stroke="#333" stroke-width="0.9" />
<line x1="368.9" y1="934.7" x2="368.9" y2="966.5" stroke="#333" stroke-width="0.9" />
<line x1="377.9" y1="934.7" x2="377.9" y2="966.5" stroke="#333" stroke-width="0.9" />
<line x1="448.4" y1="934.7" x2="448.4" y2="966.5" stroke="#333" stroke-width="0.9" />
<line x1="457.4" y1="934.7" x2="457.4" y2="966.5" stroke="#333" stroke-width="0.9" />
<line x1="596.9" y1="934.7" x2="596.9" y2="966.5" stroke="#333" stroke-width="0.9" />
<line x1="605.9" y1="934.7" x2="605.9" y2="966.5" stroke="#333" stroke-width="0.9" />
<line x1="676" y1="934.7" x2="676" y2="966.5" stroke="#333" stroke-width="0.9" />
<line x1="685" y1="934.7" x2="685" y2="966.5" stroke="#333" stroke-width="0.9" />
<line x1="784.4" y1="934.7" x2="784.4" y2="966.5" stroke="#333" stroke-width="0.9" />
<line x1="269.5" y1="959.6" x2="368.9" y2="959.6" stroke="#222" stroke-width="0.9" />
<polygon points="269.5,959.6 279,957.85 279,961.35" fill="#000" stroke="#000" stroke-width="0.3" />
<polygon points="368.9,959.6 359.4,961.35 359.4,957.85" fill="#000" stroke="#000" stroke-width="0.3" />
<line x1="377.9" y1="959.6" x2="448.4" y2="959.6" stroke="#222" stroke-width="0.9" />
<polygon points="377.9,959.6 387.4,957.85 387.4,961.35" fill="#000" stroke="#000" stroke-width="0.3" />
<polygon points="448.4,959.6 438.9,961.35 438.9,957.85" fill="#000" stroke="#000" stroke-width="0.3" />
<line x1="457.4" y1="959.6" x2="596.9" y2="959.6" stroke="#222" stroke-width="0.9" />
<polygon points="457.4,959.6 466.9,957.85 466.9,961.35" fill="#000" stroke="#000" stroke-width="0.3" />
<polygon points="596.9,959.6 587.4,961.35 587.4,957.85" fill="#000" stroke="#000" stroke-width="0.3" />
<line x1="605.9" y1="959.6" x2="676" y2="959.6" stroke="#222" stroke-width="0.9" />
<polygon points="605.9,959.6 615.4,957.85 615.4,961.35" fill="#000" stroke="#000" stroke-width="0.3" />
<polygon points="676,959.6 666.5,961.35 666.5,957.85" fill="#000" stroke="#000" stroke-width="0.3" />
<line x1="685" y1="959.6" x2="784.4" y2="959.6" stroke="#222" stroke-width="0.9" />
<polygon points="685,959.6 694.5,957.85 694.5,961.35" fill="#000" stroke="#000" stroke-width="0.3" />
<polygon points="784.4,959.6 774.9,961.35 774.9,957.85" fill="#000" stroke="#000" stroke-width="0.3" />
<text x="320.4" y="973.3" font-family="Liberation Sans" font-size="16" font-weight="normal" font-style="italic" text-anchor="middle" dominant-baseline="central" fill="#111"  letter-spacing="2">3’–7”</text>
<text x="414.3" y="973.3" font-family="Liberation Sans" font-size="16" font-weight="normal" font-style="italic" text-anchor="middle" dominant-baseline="central" fill="#111"  letter-spacing="2">2’–6”</text>
<text x="484.8" y="973.3" font-family="Liberation Sans" font-size="16" font-weight="normal" font-style="italic" text-anchor="middle" dominant-baseline="central" fill="#111"  letter-spacing="2">5’</text>
<text x="641.2" y="973.3" font-family="Liberation Sans" font-size="16" font-weight="normal" font-style="italic" text-anchor="middle" dominant-baseline="central" fill="#111"  letter-spacing="2">2’–6”</text>
<text x="735.2" y="973.3" font-family="Liberation Sans" font-size="16" font-weight="normal" font-style="italic" text-anchor="middle" dominant-baseline="central" fill="#111"  letter-spacing="2">3’–7”</text>
<polyline points="527,959.6 498.2,985.9 471.1,985.9" fill="none" stroke="#222" stroke-width="0.9" />
<line x1="274.9" y1="1011.2" x2="508" y2="1011.2" stroke="#222" stroke-width="0.9" />
<polygon points="274.9,1011.2 284.4,1009.45 284.4,1012.95" fill="#000" stroke="#000" stroke-width="0.3" />
<polygon points="508,1011.2 498.5,1012.95 498.5,1009.45" fill="#000" stroke="#000" stroke-width="0.3" />
<text x="392.6" y="998.3" font-family="Liberation Sans" font-size="16" font-weight="normal" font-style="italic" text-anchor="middle" dominant-baseline="central" fill="#111"  letter-spacing="2">8’–5”</text>
<line x1="256.2" y1="1056.3" x2="527" y2="1056.3" stroke="#222" stroke-width="0.9" />
<polygon points="256.2,1056.3 265.7,1054.55 265.7,1058.05" fill="#000" stroke="#000" stroke-width="0.3" />
<polygon points="527,1056.3 517.5,1058.05 517.5,1054.55" fill="#000" stroke="#000" stroke-width="0.3" />
<line x1="527" y1="1056.3" x2="797.7" y2="1056.3" stroke="#222" stroke-width="0.9" />
<polygon points="527,1056.3 536.5,1054.55 536.5,1058.05" fill="#000" stroke="#000" stroke-width="0.3" />
<polygon points="797.7,1056.3 788.2,1058.05 788.2,1054.55" fill="#000" stroke="#000" stroke-width="0.3" />
<text x="392.6" y="1044.2" font-family="Liberation Sans" font-size="16" font-weight="normal" font-style="italic" text-anchor="middle" dominant-baseline="central" fill="#111"  letter-spacing="2">9’–9”</text>
<text x="663.6" y="1044.2" font-family="Liberation Sans" font-size="16" font-weight="normal" font-style="italic" text-anchor="middle" dominant-baseline="central" fill="#111"  letter-spacing="2">9’–9”</text>
<line x1="814.4" y1="938.2" x2="843.3" y2="938.2" stroke="#333" stroke-width="0.9" />
<line x1="826" y1="984" x2="843.3" y2="984" stroke="#333" stroke-width="0.9" />
<line x1="826" y1="1031" x2="843.3" y2="1031" stroke="#333" stroke-width="0.9" />
<line x1="805" y1="924.5" x2="843.3" y2="924.5" stroke="#333" stroke-width="0.9" />
<line x1="836.8" y1="938.2" x2="836.8" y2="984" stroke="#222" stroke-width="0.9" />
<polygon points="836.8,938.2 838.55,947.7 835.05,947.7" fill="#000" stroke="#000" stroke-width="0.3" />
<polygon points="836.8,984 835.05,974.5 838.55,974.5" fill="#000" stroke="#000" stroke-width="0.3" />
<line x1="836.8" y1="984" x2="836.8" y2="1031" stroke="#222" stroke-width="0.9" />
<polygon points="836.8,984 838.55,993.5 835.05,993.5" fill="#000" stroke="#000" stroke-width="0.3" />
<polygon points="836.8,1031 835.05,1021.5 838.55,1021.5" fill="#000" stroke="#000" stroke-width="0.3" />
<polyline points="836.8,962.4 875.8,1010.4 930,1010.4" fill="none" stroke="#222" stroke-width="0.9" />
<polyline points="836.8,1008.3 872.2,1046.6 925.3,1046.6" fill="none" stroke="#222" stroke-width="0.9" />
<text x="903.9" y="997.2" font-family="Liberation Sans" font-size="16" font-weight="normal" font-style="italic" text-anchor="middle" dominant-baseline="central" fill="#111"  letter-spacing="2">1’–8”</text>
<text x="899.6" y="1033.4" font-family="Liberation Sans" font-size="16" font-weight="normal" font-style="italic" text-anchor="middle" dominant-baseline="central" fill="#111"  letter-spacing="2">1’–8”</text>
<line x1="537.3" y1="379.8" x2="843.6" y2="379.8" stroke="#333" stroke-width="0.9" />
<line x1="537.3" y1="420.6" x2="726.4" y2="420.6" stroke="#333" stroke-width="0.9" />
<line x1="560.3" y1="466.6" x2="726.4" y2="466.6" stroke="#333" stroke-width="0.9" />
<line x1="719.7" y1="420.6" x2="719.7" y2="466.6" stroke="#222" stroke-width="0.9" />
<polygon points="719.7,420.6 721.45,430.1 717.95,430.1" fill="#000" stroke="#000" stroke-width="0.3" />
<polygon points="719.7,466.6 717.95,457.1 721.45,457.1" fill="#000" stroke="#000" stroke-width="0.3" />
<polyline points="719.7,442.8 742.5,430.3 796.7,430.3" fill="none" stroke="#222" stroke-width="0.9" />
<text x="769.8" y="418" font-family="Liberation Sans" font-size="16" font-weight="normal" font-style="italic" text-anchor="middle" dominant-baseline="central" fill="#111"  letter-spacing="2">1’–8”</text>
<line x1="567.7" y1="480.1" x2="821.8" y2="480.1" stroke="#333" stroke-width="0.9" />
<line x1="610" y1="563.5" x2="821.8" y2="563.5" stroke="#333" stroke-width="0.9" />
<line x1="616.4" y1="576.9" x2="821.8" y2="576.9" stroke="#333" stroke-width="0.9" />
<line x1="686.2" y1="715.7" x2="821.8" y2="715.7" stroke="#333" stroke-width="0.9" />
<line x1="694.5" y1="730" x2="821.8" y2="730" stroke="#333" stroke-width="0.9" />
<line x1="805" y1="924.5" x2="843.2" y2="924.5" stroke="#333" stroke-width="0.9" />
<line x1="814.7" y1="480.1" x2="814.7" y2="563.5" stroke="#222" stroke-width="0.9" />
<polygon points="814.7,480.1 816.45,489.6 812.95,489.6" fill="#000" stroke="#000" stroke-width="0.3" />
<polygon points="814.7,563.5 812.95,554 816.45,554" fill="#000" stroke="#000" stroke-width="0.3" />
<line x1="814.7" y1="576.9" x2="814.7" y2="715.7" stroke="#222" stroke-width="0.9" />
<polygon points="814.7,576.9 816.45,586.4 812.95,586.4" fill="#000" stroke="#000" stroke-width="0.3" />
<polygon points="814.7,715.7 812.95,706.2 816.45,706.2" fill="#000" stroke="#000" stroke-width="0.3" />
<line x1="814.7" y1="730" x2="814.7" y2="924.5" stroke="#222" stroke-width="0.9" />
<polygon points="814.7,730 816.45,739.5 812.95,739.5" fill="#000" stroke="#000" stroke-width="0.3" />
<polygon points="814.7,924.5 812.95,915 816.45,915" fill="#000" stroke="#000" stroke-width="0.3" />
<line x1="836.9" y1="379.8" x2="836.9" y2="924.5" stroke="#222" stroke-width="0.9" />
<polygon points="836.9,379.8 838.65,389.3 835.15,389.3" fill="#000" stroke="#000" stroke-width="0.3" />
<polygon points="836.9,924.5 835.15,915 838.65,915" fill="#000" stroke="#000" stroke-width="0.3" />
<text x="827.4" y="520.6" font-family="Liberation Sans" font-size="16" font-weight="normal" font-style="italic" text-anchor="middle" dominant-baseline="central" fill="#111" transform="rotate(-90 827.4 520.6)"  letter-spacing="2">3’</text>
<text x="829.2" y="645.1" font-family="Liberation Sans" font-size="16" font-weight="normal" font-style="italic" text-anchor="middle" dominant-baseline="central" fill="#111" transform="rotate(-90 829.2 645.1)"  letter-spacing="2">5’</text>
<text x="829.2" y="824.4" font-family="Liberation Sans" font-size="16" font-weight="normal" font-style="italic" text-anchor="middle" dominant-baseline="central" fill="#111" transform="rotate(-90 829.2 824.4)"  letter-spacing="2">7’</text>
<text x="850.2" y="651" font-family="Liberation Sans" font-size="16" font-weight="normal" font-style="italic" text-anchor="middle" dominant-baseline="central" fill="#111" transform="rotate(-90 850.2 651)"  letter-spacing="2">19’–8”</text>
<line x1="232.68" y1="908.5" x2="507.52" y2="369.6" stroke="#222" stroke-width="0.9" />
<polygon points="232.68,908.5 235.62,898.77 238.83,900.41" fill="#000" stroke="#000" stroke-width="0.3" />
<polygon points="507.52,369.6 504.58,379.33 501.37,377.69" fill="#000" stroke="#000" stroke-width="0.3" />
<line x1="222.7" y1="910.8" x2="240.3" y2="919.6" stroke="#222" stroke-width="0.9" />
<line x1="500.2" y1="365.9" x2="518.1" y2="375.5" stroke="#222" stroke-width="0.9" />
<text x="356.15" y="634.61" font-family="Liberation Sans" font-size="16" font-weight="normal" font-style="italic" text-anchor="middle" dominant-baseline="central" fill="#111" transform="rotate(-63 356.15 634.61)"  letter-spacing="2">22’</text>
<path d="M 492.3 488.7 Q 527 505.3 561.7 488.7" fill="none" stroke="#222" stroke-width="0.9"/>
<polygon points="492.3,488.7 501.08,491.12 499.93,493.67" fill="#000" stroke="#000" stroke-width="0.3" />
<polygon points="561.7,488.7 554.07,493.67 552.92,491.12" fill="#000" stroke="#000" stroke-width="0.3" />
<text x="525.6" y="509.8" font-family="Liberation Sans" font-size="16" font-weight="normal" font-style="italic" text-anchor="middle" dominant-baseline="central" fill="#111"  letter-spacing="2">54</text>
<circle cx="537.9" cy="504.3" r="1.3" fill="#111" stroke="#111" stroke-width="0.3"/>
<path d="M 293.8 889.7 Q 309 900 312.2 919.5" fill="none" stroke="#222" stroke-width="0.9"/>
<polygon points="293.8,889.7 300.72,893.92 299.03,895.89" fill="#000" stroke="#000" stroke-width="0.3" />
<polygon points="312.2,919.5 310.11,911.67 312.7,911.41" fill="#000" stroke="#000" stroke-width="0.3" />
<text x="324.8" y="888.6" font-family="Liberation Sans" font-size="16" font-weight="normal" font-style="italic" text-anchor="middle" dominant-baseline="central" fill="#111"  letter-spacing="2">63</text>
<circle cx="337.4" cy="884.1" r="1.3" fill="#111" stroke="#111" stroke-width="0.3"/>
<line x1="631.7" y1="905" x2="631.7" y2="959" stroke="#222" stroke-width="0.9" />
<polygon points="631.7,924.5 629.95,915 633.45,915" fill="#000" stroke="#000" stroke-width="0.3" />
<polygon points="631.7,938.7 633.45,948.2 629.95,948.2" fill="#000" stroke="#000" stroke-width="0.3" />
<polyline points="631.7,929.4 645,908.2 674.7,908.2" fill="none" stroke="#222" stroke-width="0.9" />
<text x="660" y="895.8" font-family="Liberation Sans" font-size="16" font-weight="normal" font-style="italic" text-anchor="middle" dominant-baseline="central" fill="#111"  letter-spacing="2">6”</text>
<line x1="1250.4" y1="126.2" x2="1250.4" y2="645.75" stroke="#707070" stroke-width="1" stroke-dasharray="44 6.5 8 6.5" stroke-dashoffset="2.6"/>
<line x1="1250.4" y1="1165.3" x2="1250.4" y2="645.75" stroke="#707070" stroke-width="1" stroke-dasharray="44 6.5 8 6.5" stroke-dashoffset="2.6"/>
<circle cx="1250.4" cy="114.6" r="11.6" fill="#fff" stroke="#333" stroke-width="0.9"/>
<text x="1250.4" y="115.4" font-family="Liberation Sans" font-size="17" font-weight="normal" font-style="normal" text-anchor="middle" dominant-baseline="central" fill="#000" >A</text>
<circle cx="1250.4" cy="1176.9" r="11.6" fill="#fff" stroke="#333" stroke-width="0.9"/>
<text x="1250.4" y="1177.7" font-family="Liberation Sans" font-size="17" font-weight="normal" font-style="normal" text-anchor="middle" dominant-baseline="central" fill="#000" >A</text>
<line x1="1487" y1="126.2" x2="1487" y2="645.75" stroke="#707070" stroke-width="1" stroke-dasharray="44 6.5 8 6.5" stroke-dashoffset="2.6"/>
<line x1="1487" y1="1165.3" x2="1487" y2="645.75" stroke="#707070" stroke-width="1" stroke-dasharray="44 6.5 8 6.5" stroke-dashoffset="2.6"/>
<circle cx="1487" cy="114.6" r="11.6" fill="#fff" stroke="#333" stroke-width="0.9"/>
<text x="1487" y="115.4" font-family="Liberation Sans" font-size="17" font-weight="normal" font-style="normal" text-anchor="middle" dominant-baseline="central" fill="#000" >B</text>
<circle cx="1487" cy="1176.9" r="11.6" fill="#fff" stroke="#333" stroke-width="0.9"/>
<text x="1487" y="1177.7" font-family="Liberation Sans" font-size="17" font-weight="normal" font-style="normal" text-anchor="middle" dominant-baseline="central" fill="#000" >B</text>
<line x1="1723.9" y1="126.2" x2="1723.9" y2="645.75" stroke="#707070" stroke-width="1" stroke-dasharray="44 6.5 8 6.5" stroke-dashoffset="2.6"/>
<line x1="1723.9" y1="1165.3" x2="1723.9" y2="645.75" stroke="#707070" stroke-width="1" stroke-dasharray="44 6.5 8 6.5" stroke-dashoffset="2.6"/>
<circle cx="1723.9" cy="114.6" r="11.6" fill="#fff" stroke="#333" stroke-width="0.9"/>
<text x="1723.9" y="115.4" font-family="Liberation Sans" font-size="17" font-weight="normal" font-style="normal" text-anchor="middle" dominant-baseline="central" fill="#000" >C</text>
<circle cx="1723.9" cy="1176.9" r="11.6" fill="#fff" stroke="#333" stroke-width="0.9"/>
<text x="1723.9" y="1177.7" font-family="Liberation Sans" font-size="17" font-weight="normal" font-style="normal" text-anchor="middle" dominant-baseline="central" fill="#000" >C</text>
<line x1="1179" y1="207.7" x2="1495.85" y2="207.7" stroke="#707070" stroke-width="1" stroke-dasharray="44 6.5 8 6.5" stroke-dashoffset="2.6"/>
<line x1="1812.7" y1="207.7" x2="1495.85" y2="207.7" stroke="#707070" stroke-width="1" stroke-dasharray="44 6.5 8 6.5" stroke-dashoffset="2.6"/>
<circle cx="1167.3" cy="207.7" r="11.6" fill="#fff" stroke="#333" stroke-width="0.9"/>
<text x="1167.3" y="208.5" font-family="Liberation Sans" font-size="17" font-weight="normal" font-style="normal" text-anchor="middle" dominant-baseline="central" fill="#000" >1</text>
<circle cx="1824.3" cy="207.7" r="11.6" fill="#fff" stroke="#333" stroke-width="0.9"/>
<text x="1824.3" y="208.5" font-family="Liberation Sans" font-size="17" font-weight="normal" font-style="normal" text-anchor="middle" dominant-baseline="central" fill="#000" >1</text>
<line x1="1179" y1="573.8" x2="1495.85" y2="573.8" stroke="#707070" stroke-width="1" stroke-dasharray="44 6.5 8 6.5" stroke-dashoffset="2.6"/>
<line x1="1812.7" y1="573.8" x2="1495.85" y2="573.8" stroke="#707070" stroke-width="1" stroke-dasharray="44 6.5 8 6.5" stroke-dashoffset="2.6"/>
<circle cx="1167.3" cy="573.8" r="11.6" fill="#fff" stroke="#333" stroke-width="0.9"/>
<text x="1167.3" y="574.6" font-family="Liberation Sans" font-size="17" font-weight="normal" font-style="normal" text-anchor="middle" dominant-baseline="central" fill="#000" >2</text>
<circle cx="1824.3" cy="573.8" r="11.6" fill="#fff" stroke="#333" stroke-width="0.9"/>
<text x="1824.3" y="574.6" font-family="Liberation Sans" font-size="17" font-weight="normal" font-style="normal" text-anchor="middle" dominant-baseline="central" fill="#000" >2</text>
<line x1="1179" y1="940.2" x2="1495.85" y2="940.2" stroke="#707070" stroke-width="1" stroke-dasharray="44 6.5 8 6.5" stroke-dashoffset="2.6"/>
<line x1="1812.7" y1="940.2" x2="1495.85" y2="940.2" stroke="#707070" stroke-width="1" stroke-dasharray="44 6.5 8 6.5" stroke-dashoffset="2.6"/>
<circle cx="1167.3" cy="940.2" r="11.6" fill="#fff" stroke="#333" stroke-width="0.9"/>
<text x="1167.3" y="941" font-family="Liberation Sans" font-size="17" font-weight="normal" font-style="normal" text-anchor="middle" dominant-baseline="central" fill="#000" >3</text>
<circle cx="1824.3" cy="940.2" r="11.6" fill="#fff" stroke="#333" stroke-width="0.9"/>
<text x="1824.3" y="941" font-family="Liberation Sans" font-size="17" font-weight="normal" font-style="normal" text-anchor="middle" dominant-baseline="central" fill="#000" >3</text>
<line x1="1179" y1="1094" x2="1495.85" y2="1094" stroke="#707070" stroke-width="1" stroke-dasharray="44 6.5 8 6.5" stroke-dashoffset="2.6"/>
<line x1="1812.7" y1="1094" x2="1495.85" y2="1094" stroke="#707070" stroke-width="1" stroke-dasharray="44 6.5 8 6.5" stroke-dashoffset="2.6"/>
<circle cx="1167.3" cy="1094" r="11.6" fill="#fff" stroke="#333" stroke-width="0.9"/>
<text x="1167.3" y="1094.8" font-family="Liberation Sans" font-size="17" font-weight="normal" font-style="normal" text-anchor="middle" dominant-baseline="central" fill="#000" >4</text>
<circle cx="1824.3" cy="1094" r="11.6" fill="#fff" stroke="#333" stroke-width="0.9"/>
<text x="1824.3" y="1094.8" font-family="Liberation Sans" font-size="17" font-weight="normal" font-style="normal" text-anchor="middle" dominant-baseline="central" fill="#000" >4</text>
<rect x="1234.1" y="191.3" width="32.6" height="32.8" fill="none" stroke="#111" stroke-width="1.3" />
<rect x="1234.1" y="557.4" width="32.6" height="32.8" fill="none" stroke="#111" stroke-width="1.3" />
<rect x="1234.1" y="923.8" width="32.6" height="32.8" fill="none" stroke="#111" stroke-width="1.3" />
<rect x="1234.1" y="1077.6" width="32.6" height="32.8" fill="none" stroke="#111" stroke-width="1.3" />
<rect x="1470.7" y="191.3" width="32.6" height="32.8" fill="none" stroke="#111" stroke-width="1.3" />
<rect x="1470.7" y="557.4" width="32.6" height="32.8" fill="none" stroke="#111" stroke-width="1.3" />
<rect x="1470.7" y="923.8" width="32.6" height="32.8" fill="none" stroke="#111" stroke-width="1.3" />
<rect x="1470.7" y="1077.6" width="32.6" height="32.8" fill="none" stroke="#111" stroke-width="1.3" />
<rect x="1707.6" y="191.3" width="32.6" height="32.8" fill="none" stroke="#111" stroke-width="1.3" />
<rect x="1707.6" y="557.4" width="32.6" height="32.8" fill="none" stroke="#111" stroke-width="1.3" />
<rect x="1707.6" y="923.8" width="32.6" height="32.8" fill="none" stroke="#111" stroke-width="1.3" />
<rect x="1707.6" y="1077.6" width="32.6" height="32.8" fill="none" stroke="#111" stroke-width="1.3" />
<rect x="1244.5" y="201.4" width="485.3" height="12.6" fill="#fff"/>
<rect x="1244.5" y="567.5" width="485.3" height="12.6" fill="#fff"/>
<rect x="1244.5" y="933.9" width="485.3" height="12.6" fill="#fff"/>
<rect x="1244.5" y="1087.7" width="485.3" height="12.6" fill="#fff"/>
<rect x="1244.5" y="201.4" width="11.9" height="898.9" fill="#fff"/>
<rect x="1717.6" y="201.4" width="12.2" height="898.9" fill="#fff"/>
<rect x="1481" y="207.7" width="12" height="892.6" fill="#fff"/>
<line x1="1256" y1="207.7" x2="1717" y2="207.7" stroke="#777" stroke-width="0.9" stroke-dasharray="44 6.5 8 6.5" stroke-dashoffset="20"/>
<line x1="1256" y1="573.8" x2="1717" y2="573.8" stroke="#777" stroke-width="0.9" stroke-dasharray="44 6.5 8 6.5" stroke-dashoffset="20"/>
<line x1="1256" y1="940.2" x2="1717" y2="940.2" stroke="#777" stroke-width="0.9" stroke-dasharray="44 6.5 8 6.5" stroke-dashoffset="20"/>
<line x1="1256" y1="1094" x2="1717" y2="1094" stroke="#777" stroke-width="0.9" stroke-dasharray="44 6.5 8 6.5" stroke-dashoffset="20"/>
<line x1="1250.4" y1="214" x2="1250.4" y2="1087" stroke="#777" stroke-width="0.9" stroke-dasharray="44 6.5 8 6.5" stroke-dashoffset="20"/>
<line x1="1723.9" y1="214" x2="1723.9" y2="1087" stroke="#777" stroke-width="0.9" stroke-dasharray="44 6.5 8 6.5" stroke-dashoffset="20"/>
<line x1="1487" y1="214" x2="1487" y2="1087" stroke="#777" stroke-width="0.9" stroke-dasharray="44 6.5 8 6.5" stroke-dashoffset="20"/>
<line x1="1244.5" y1="201.4" x2="1244.5" y2="1100.3" stroke="#111" stroke-width="1.5" />
<line x1="1256.4" y1="214" x2="1256.4" y2="1087.7" stroke="#111" stroke-width="1.5" />
<line x1="1729.8" y1="201.4" x2="1729.8" y2="1100.3" stroke="#111" stroke-width="1.5" />
<line x1="1717.6" y1="214" x2="1717.6" y2="1087.7" stroke="#111" stroke-width="1.5" />
<line x1="1244.5" y1="201.4" x2="1729.8" y2="201.4" stroke="#111" stroke-width="1.5" />
<line x1="1244.5" y1="1100.3" x2="1729.8" y2="1100.3" stroke="#111" stroke-width="1.5" />
<line x1="1256.4" y1="214" x2="1481" y2="214" stroke="#111" stroke-width="1.5" />
<line x1="1493" y1="214" x2="1717.6" y2="214" stroke="#111" stroke-width="1.5" />
<line x1="1256.4" y1="1087.7" x2="1481" y2="1087.7" stroke="#111" stroke-width="1.5" />
<line x1="1493" y1="1087.7" x2="1717.6" y2="1087.7" stroke="#111" stroke-width="1.5" />
<polyline points="1481,214 1481,573.8 1487,573.8" fill="none" stroke="#111" stroke-width="1.5" />
<line x1="1493" y1="214" x2="1493" y2="567.5" stroke="#111" stroke-width="1.5" />
<line x1="1256.4" y1="567.5" x2="1481" y2="567.5" stroke="#111" stroke-width="1.5" />
<polyline points="1256.4,580.1 1487,580.1 1487,573.8" fill="none" stroke="#111" stroke-width="1.5" />
<polyline points="1717.6,567.5 1487,567.5 1487,573.8" fill="none" stroke="#111" stroke-width="1.5" />
<line x1="1493" y1="580.1" x2="1717.6" y2="580.1" stroke="#111" stroke-width="1.5" />
<polyline points="1493,933.9 1493,573.8 1487,573.8" fill="none" stroke="#111" stroke-width="1.5" />
<line x1="1481" y1="580.1" x2="1481" y2="933.9" stroke="#111" stroke-width="1.5" />
<polyline points="1481,580.1 1481,940.2 1487,940.2" fill="none" stroke="#111" stroke-width="1.5" />
<line x1="1493" y1="580.1" x2="1493" y2="933.9" stroke="#111" stroke-width="1.5" />
<line x1="1256.4" y1="933.9" x2="1481" y2="933.9" stroke="#111" stroke-width="1.5" />
<polyline points="1256.4,946.5 1487,946.5 1487,940.2" fill="none" stroke="#111" stroke-width="1.5" />
<polyline points="1717.6,933.9 1487,933.9 1487,940.2" fill="none" stroke="#111" stroke-width="1.5" />
<line x1="1493" y1="946.5" x2="1717.6" y2="946.5" stroke="#111" stroke-width="1.5" />
<polyline points="1493,1087.7 1493,940.2 1487,940.2" fill="none" stroke="#111" stroke-width="1.5" />
<line x1="1481" y1="946.5" x2="1481" y2="1087.7" stroke="#111" stroke-width="1.5" />
<polyline points="1481,214 1481,207.7 1493,207.7 1493,214" fill="none" stroke="#111" stroke-width="1.5" />
<polyline points="1481,1087.7 1481,1094 1493,1094 1493,1087.7" fill="none" stroke="#111" stroke-width="1.5" />
<rect x="1244.5" y="201.4" width="16.5" height="9.5" fill="#000"/>
<rect x="1244.5" y="568.8" width="16.5" height="9.7" fill="#000"/>
<rect x="1244.5" y="936.6" width="16.5" height="8.9" fill="#000"/>
<rect x="1244.5" y="1095" width="16.5" height="4.5" fill="#000"/>
<rect x="1713" y="201.4" width="16.8" height="9.5" fill="#000"/>
<rect x="1713" y="568.8" width="16.8" height="9.7" fill="#000"/>
<rect x="1713" y="936.6" width="16.8" height="8.9" fill="#000"/>
<rect x="1713" y="1095" width="16.8" height="4.5" fill="#000"/>
<rect x="1256.4" y="254.3" width="224.6" height="4.4" fill="#fff"/>
<line x1="1256.4" y1="254.3" x2="1481" y2="254.3" stroke="#111" stroke-width="1.4" />
<line x1="1256.4" y1="258.7" x2="1481" y2="258.7" stroke="#111" stroke-width="1.4" />
<rect x="1493" y="254.3" width="224.6" height="4.4" fill="#fff"/>
<line x1="1493" y1="254.3" x2="1717.6" y2="254.3" stroke="#111" stroke-width="1.4" />
<line x1="1493" y1="258.7" x2="1717.6" y2="258.7" stroke="#111" stroke-width="1.4" />
<rect x="1244.5" y="254.3" width="16.2" height="4.4" fill="#000"/>
<rect x="1713" y="254.3" width="16.8" height="4.4" fill="#000"/>
<rect x="1256.4" y="303.2" width="224.6" height="7.6" fill="#fff"/>
<line x1="1256.4" y1="303.2" x2="1481" y2="303.2" stroke="#111" stroke-width="1.4" />
<line x1="1256.4" y1="310.8" x2="1481" y2="310.8" stroke="#111" stroke-width="1.4" />
<rect x="1493" y="303.2" width="224.6" height="7.6" fill="#fff"/>
<line x1="1493" y1="303.2" x2="1717.6" y2="303.2" stroke="#111" stroke-width="1.4" />
<line x1="1493" y1="310.8" x2="1717.6" y2="310.8" stroke="#111" stroke-width="1.4" />
<rect x="1244.5" y="303.2" width="16.2" height="7.6" fill="#000"/>
<rect x="1713" y="303.2" width="16.8" height="7.6" fill="#000"/>
<rect x="1256.4" y="359.3" width="224.6" height="4.4" fill="#fff"/>
<line x1="1256.4" y1="359.3" x2="1481" y2="359.3" stroke="#111" stroke-width="1.4" />
<line x1="1256.4" y1="363.7" x2="1481" y2="363.7" stroke="#111" stroke-width="1.4" />
<rect x="1493" y="359.3" width="224.6" height="4.4" fill="#fff"/>
<line x1="1493" y1="359.3" x2="1717.6" y2="359.3" stroke="#111" stroke-width="1.4" />
<line x1="1493" y1="363.7" x2="1717.6" y2="363.7" stroke="#111" stroke-width="1.4" />
<rect x="1244.5" y="359.3" width="16.2" height="4.4" fill="#000"/>
<rect x="1713" y="359.3" width="16.8" height="4.4" fill="#000"/>
<rect x="1256.4" y="412.2" width="224.6" height="4.4" fill="#fff"/>
<line x1="1256.4" y1="412.2" x2="1481" y2="412.2" stroke="#111" stroke-width="1.4" />
<line x1="1256.4" y1="416.6" x2="1481" y2="416.6" stroke="#111" stroke-width="1.4" />
<rect x="1493" y="412.2" width="224.6" height="4.4" fill="#fff"/>
<line x1="1493" y1="412.2" x2="1717.6" y2="412.2" stroke="#111" stroke-width="1.4" />
<line x1="1493" y1="416.6" x2="1717.6" y2="416.6" stroke="#111" stroke-width="1.4" />
<rect x="1244.5" y="412.2" width="16.2" height="4.4" fill="#000"/>
<rect x="1713" y="412.2" width="16.8" height="4.4" fill="#000"/>
<rect x="1256.4" y="464" width="224.6" height="4.4" fill="#fff"/>
<line x1="1256.4" y1="464" x2="1481" y2="464" stroke="#111" stroke-width="1.4" />
<line x1="1256.4" y1="468.4" x2="1481" y2="468.4" stroke="#111" stroke-width="1.4" />
<rect x="1493" y="464" width="224.6" height="4.4" fill="#fff"/>
<line x1="1493" y1="464" x2="1717.6" y2="464" stroke="#111" stroke-width="1.4" />
<line x1="1493" y1="468.4" x2="1717.6" y2="468.4" stroke="#111" stroke-width="1.4" />
<rect x="1244.5" y="464" width="16.2" height="4.4" fill="#000"/>
<rect x="1713" y="464" width="16.8" height="4.4" fill="#000"/>
<rect x="1256.4" y="516.6" width="224.6" height="4.4" fill="#fff"/>
<line x1="1256.4" y1="516.6" x2="1481" y2="516.6" stroke="#111" stroke-width="1.4" />
<line x1="1256.4" y1="521" x2="1481" y2="521" stroke="#111" stroke-width="1.4" />
<rect x="1493" y="516.6" width="224.6" height="4.4" fill="#fff"/>
<line x1="1493" y1="516.6" x2="1717.6" y2="516.6" stroke="#111" stroke-width="1.4" />
<line x1="1493" y1="521" x2="1717.6" y2="521" stroke="#111" stroke-width="1.4" />
<rect x="1244.5" y="516.6" width="16.2" height="4.4" fill="#000"/>
<rect x="1713" y="516.6" width="16.8" height="4.4" fill="#000"/>
<rect x="1256.4" y="631.6" width="224.6" height="8.8" fill="#fff"/>
<line x1="1256.4" y1="631.6" x2="1481" y2="631.6" stroke="#111" stroke-width="1.4" />
<line x1="1256.4" y1="640.4" x2="1481" y2="640.4" stroke="#111" stroke-width="1.4" />
<rect x="1493" y="631.6" width="224.6" height="8.8" fill="#fff"/>
<line x1="1493" y1="631.6" x2="1717.6" y2="631.6" stroke="#111" stroke-width="1.4" />
<line x1="1493" y1="640.4" x2="1717.6" y2="640.4" stroke="#111" stroke-width="1.4" />
<rect x="1244.5" y="631.6" width="16.2" height="8.8" fill="#000"/>
<rect x="1713" y="631.6" width="16.8" height="8.8" fill="#000"/>
<rect x="1256.4" y="674.8" width="224.6" height="4.4" fill="#fff"/>
<line x1="1256.4" y1="674.8" x2="1481" y2="674.8" stroke="#111" stroke-width="1.4" />
<line x1="1256.4" y1="679.2" x2="1481" y2="679.2" stroke="#111" stroke-width="1.4" />
<rect x="1493" y="674.8" width="224.6" height="4.4" fill="#fff"/>
<line x1="1493" y1="674.8" x2="1717.6" y2="674.8" stroke="#111" stroke-width="1.4" />
<line x1="1493" y1="679.2" x2="1717.6" y2="679.2" stroke="#111" stroke-width="1.4" />
<rect x="1244.5" y="674.8" width="16.2" height="4.4" fill="#000"/>
<rect x="1713" y="674.8" width="16.8" height="4.4" fill="#000"/>
<rect x="1256.4" y="727.5" width="224.6" height="4.4" fill="#fff"/>
<line x1="1256.4" y1="727.5" x2="1481" y2="727.5" stroke="#111" stroke-width="1.4" />
<line x1="1256.4" y1="731.9" x2="1481" y2="731.9" stroke="#111" stroke-width="1.4" />
<rect x="1493" y="727.5" width="224.6" height="4.4" fill="#fff"/>
<line x1="1493" y1="727.5" x2="1717.6" y2="727.5" stroke="#111" stroke-width="1.4" />
<line x1="1493" y1="731.9" x2="1717.6" y2="731.9" stroke="#111" stroke-width="1.4" />
<rect x="1244.5" y="727.5" width="16.2" height="4.4" fill="#000"/>
<rect x="1713" y="727.5" width="16.8" height="4.4" fill="#000"/>
<rect x="1256.4" y="780.1" width="224.6" height="4.4" fill="#fff"/>
<line x1="1256.4" y1="780.1" x2="1481" y2="780.1" stroke="#111" stroke-width="1.4" />
<line x1="1256.4" y1="784.5" x2="1481" y2="784.5" stroke="#111" stroke-width="1.4" />
<rect x="1493" y="780.1" width="224.6" height="4.4" fill="#fff"/>
<line x1="1493" y1="780.1" x2="1717.6" y2="780.1" stroke="#111" stroke-width="1.4" />
<line x1="1493" y1="784.5" x2="1717.6" y2="784.5" stroke="#111" stroke-width="1.4" />
<rect x="1244.5" y="780.1" width="16.2" height="4.4" fill="#000"/>
<rect x="1713" y="780.1" width="16.8" height="4.4" fill="#000"/>
<rect x="1256.4" y="832.7" width="224.6" height="4.4" fill="#fff"/>
<line x1="1256.4" y1="832.7" x2="1481" y2="832.7" stroke="#111" stroke-width="1.4" />
<line x1="1256.4" y1="837.1" x2="1481" y2="837.1" stroke="#111" stroke-width="1.4" />
<rect x="1493" y="832.7" width="224.6" height="4.4" fill="#fff"/>
<line x1="1493" y1="832.7" x2="1717.6" y2="832.7" stroke="#111" stroke-width="1.4" />
<line x1="1493" y1="837.1" x2="1717.6" y2="837.1" stroke="#111" stroke-width="1.4" />
<rect x="1244.5" y="832.7" width="16.2" height="4.4" fill="#000"/>
<rect x="1713" y="832.7" width="16.8" height="4.4" fill="#000"/>
<rect x="1256.4" y="885.2" width="224.6" height="4.4" fill="#fff"/>
<line x1="1256.4" y1="885.2" x2="1481" y2="885.2" stroke="#111" stroke-width="1.4" />
<line x1="1256.4" y1="889.6" x2="1481" y2="889.6" stroke="#111" stroke-width="1.4" />
<rect x="1493" y="885.2" width="224.6" height="4.4" fill="#fff"/>
<line x1="1493" y1="885.2" x2="1717.6" y2="885.2" stroke="#111" stroke-width="1.4" />
<line x1="1493" y1="889.6" x2="1717.6" y2="889.6" stroke="#111" stroke-width="1.4" />
<rect x="1244.5" y="885.2" width="16.2" height="4.4" fill="#000"/>
<rect x="1713" y="885.2" width="16.8" height="4.4" fill="#000"/>
<rect x="1256.4" y="990.5" width="224.6" height="4.4" fill="#fff"/>
<line x1="1256.4" y1="990.5" x2="1481" y2="990.5" stroke="#111" stroke-width="1.4" />
<line x1="1256.4" y1="994.9" x2="1481" y2="994.9" stroke="#111" stroke-width="1.4" />
<rect x="1493" y="990.5" width="224.6" height="4.4" fill="#fff"/>
<line x1="1493" y1="990.5" x2="1717.6" y2="990.5" stroke="#111" stroke-width="1.4" />
<line x1="1493" y1="994.9" x2="1717.6" y2="994.9" stroke="#111" stroke-width="1.4" />
<rect x="1244.5" y="990.5" width="16.2" height="4.4" fill="#000"/>
<rect x="1713" y="990.5" width="16.8" height="4.4" fill="#000"/>
<rect x="1256.4" y="1043" width="224.6" height="4.4" fill="#fff"/>
<line x1="1256.4" y1="1043" x2="1481" y2="1043" stroke="#111" stroke-width="1.4" />
<line x1="1256.4" y1="1047.4" x2="1481" y2="1047.4" stroke="#111" stroke-width="1.4" />
<rect x="1493" y="1043" width="224.6" height="4.4" fill="#fff"/>
<line x1="1493" y1="1043" x2="1717.6" y2="1043" stroke="#111" stroke-width="1.4" />
<line x1="1493" y1="1047.4" x2="1717.6" y2="1047.4" stroke="#111" stroke-width="1.4" />
<rect x="1244.5" y="1043" width="16.2" height="4.4" fill="#000"/>
<rect x="1713" y="1043" width="16.8" height="4.4" fill="#000"/>
<rect x="1256.4" y="513.2" width="224.6" height="7.9" fill="#fff"/>
<line x1="1256.4" y1="513.2" x2="1481" y2="513.2" stroke="#111" stroke-width="1.4" />
<line x1="1256.4" y1="521.1" x2="1481" y2="521.1" stroke="#111" stroke-width="1.4" />
<line x1="1450.7" y1="517" x2="1481" y2="517" stroke="#111" stroke-width="1" />
<rect x="1244.4" y="517" width="20.4" height="4.1" fill="#000"/>
<rect x="1256.4" y="513.2" width="8.4" height="7.9" fill="#000"/>
<rect x="1366.8" y="214" width="3.5" height="873.7" fill="#fff"/>
<line x1="1366.8" y1="214" x2="1366.8" y2="1087.7" stroke="#111" stroke-width="1.2" />
<line x1="1370.3" y1="214" x2="1370.3" y2="1087.7" stroke="#111" stroke-width="1.2" />
<rect x="1603.5" y="214" width="4.1" height="873.7" fill="#fff"/>
<line x1="1603.5" y1="214" x2="1603.5" y2="1087.7" stroke="#111" stroke-width="1.2" />
<line x1="1607.6" y1="214" x2="1607.6" y2="1087.7" stroke="#111" stroke-width="1.2" />
<rect x="1443.7" y="214" width="3.9" height="92.5" fill="#fff"/>
<line x1="1443.7" y1="214" x2="1443.7" y2="306.5" stroke="#111" stroke-width="1.2" />
<line x1="1447.6" y1="214" x2="1447.6" y2="306.5" stroke="#111" stroke-width="1.2" />
<rect x="1444.5" y="306.5" width="6.1" height="155.9" fill="#fff"/>
<line x1="1444.5" y1="306.5" x2="1444.5" y2="462.4" stroke="#111" stroke-width="1.5" />
<line x1="1450.6" y1="306.5" x2="1450.6" y2="462.4" stroke="#111" stroke-width="1.5" />
<rect x="1443.7" y="462.4" width="3.9" height="105.1" fill="#fff"/>
<line x1="1443.7" y1="462.4" x2="1443.7" y2="567.5" stroke="#111" stroke-width="1.2" />
<line x1="1447.6" y1="462.4" x2="1447.6" y2="567.5" stroke="#111" stroke-width="1.2" />
<rect x="1522.6" y="306.5" width="7.4" height="329.5" fill="#fff"/>
<line x1="1522.6" y1="306.5" x2="1522.6" y2="636" stroke="#111" stroke-width="1.5" />
<line x1="1530" y1="306.5" x2="1530" y2="636" stroke="#111" stroke-width="1.5" />
<rect x="1526" y="214" width="4" height="92.5" fill="#fff"/>
<line x1="1526" y1="214" x2="1526" y2="306.5" stroke="#111" stroke-width="1.2" />
<line x1="1530" y1="214" x2="1530" y2="306.5" stroke="#111" stroke-width="1.2" />
<rect x="1256.4" y="303.9" width="224.6" height="6.2" fill="#fff"/>
<line x1="1256.4" y1="303.2" x2="1481" y2="303.2" stroke="#111" stroke-width="1.4" />
<line x1="1256.4" y1="310.8" x2="1481" y2="310.8" stroke="#111" stroke-width="1.4" />
<rect x="1493" y="303.9" width="224.6" height="6.2" fill="#fff"/>
<line x1="1493" y1="303.2" x2="1717.6" y2="303.2" stroke="#111" stroke-width="1.4" />
<line x1="1493" y1="310.8" x2="1717.6" y2="310.8" stroke="#111" stroke-width="1.4" />
<rect x="1256.4" y="632.3" width="224.6" height="7.4" fill="#fff"/>
<line x1="1256.4" y1="631.6" x2="1481" y2="631.6" stroke="#111" stroke-width="1.4" />
<line x1="1256.4" y1="640.4" x2="1481" y2="640.4" stroke="#111" stroke-width="1.4" />
<rect x="1493" y="632.3" width="224.6" height="7.4" fill="#fff"/>
<line x1="1493" y1="631.6" x2="1717.6" y2="631.6" stroke="#111" stroke-width="1.4" />
<line x1="1493" y1="640.4" x2="1717.6" y2="640.4" stroke="#111" stroke-width="1.4" />
<rect x="1256.4" y="513.9" width="224.6" height="6.5" fill="#fff"/>
<line x1="1256.4" y1="513.2" x2="1481" y2="513.2" stroke="#111" stroke-width="1.4" />
<line x1="1256.4" y1="521.1" x2="1481" y2="521.1" stroke="#111" stroke-width="1.4" />
<line x1="1450.7" y1="517" x2="1481" y2="517" stroke="#111" stroke-width="1" />
<rect x="1244.5" y="303.2" width="16.2" height="7.6" fill="#000"/>
<rect x="1713" y="303.2" width="16.8" height="7.6" fill="#000"/>
<rect x="1244.5" y="631.6" width="16.2" height="8.8" fill="#000"/>
<rect x="1713" y="631.6" width="16.8" height="8.8" fill="#000"/>
<rect x="1244.4" y="517" width="20.4" height="4.1" fill="#000"/>
<rect x="1256.4" y="513.2" width="8.4" height="7.9" fill="#000"/>
<rect x="1305.9" y="303.2" width="7.9" height="7.6" fill="#000"/>
<rect x="1351.2" y="303.2" width="7.6" height="7.6" fill="#000"/>
<rect x="1443.2" y="303.2" width="7.4" height="7.6" fill="#000"/>
<rect x="1522.6" y="303.2" width="7.4" height="7.6" fill="#000"/>
<rect x="1614.7" y="303.2" width="7.9" height="7.6" fill="#000"/>
<rect x="1660" y="303.2" width="8.2" height="7.6" fill="#000"/>
<rect x="1443.5" y="351.5" width="7.1" height="4" fill="#000"/>
<rect x="1443.5" y="395.6" width="7.1" height="4" fill="#000"/>
<rect x="1443.5" y="460.4" width="7.1" height="4" fill="#000"/>
<rect x="1522.6" y="354.5" width="7.4" height="4" fill="#000"/>
<rect x="1522.6" y="403.9" width="7.4" height="4" fill="#000"/>
<rect x="1522.6" y="452.1" width="7.4" height="4" fill="#000"/>
<rect x="1522.6" y="501" width="7.4" height="4" fill="#000"/>
<rect x="1259.4" y="513.8" width="5.3" height="7.4" fill="#000"/>
<rect x="1296" y="513.8" width="5.5" height="7.4" fill="#000"/>
<rect x="1344.7" y="513.8" width="5.3" height="7.4" fill="#000"/>
<rect x="1393.8" y="513.8" width="5.2" height="7.4" fill="#000"/>
<rect x="1443" y="513.8" width="7.6" height="7.4" fill="#000"/>
<rect x="1522.6" y="569.9" width="7.4" height="8.5" fill="#000"/>
<rect x="1575" y="569.9" width="4.5" height="8.5" fill="#000"/>
<rect x="1623.5" y="569.9" width="4.5" height="8.5" fill="#000"/>
<rect x="1672" y="569.9" width="4.5" height="8.5" fill="#000"/>
<rect x="1522.6" y="631.9" width="7.4" height="7.9" fill="#000"/>
<line x1="1256.4" y1="633.4" x2="1481" y2="633.4" stroke="#111" stroke-width="0.9" />
<line x1="1256.4" y1="638.4" x2="1481" y2="638.4" stroke="#111" stroke-width="0.9" />
<line x1="1493" y1="633.4" x2="1713" y2="633.4" stroke="#111" stroke-width="0.9" />
<line x1="1493" y1="638.4" x2="1713" y2="638.4" stroke="#111" stroke-width="0.9" />
<line x1="1256.4" y1="305.2" x2="1481" y2="305.2" stroke="#111" stroke-width="0" />
<line x1="1530" y1="569.6" x2="1710" y2="569.6" stroke="#8a8a8a" stroke-width="1.6" />
<line x1="1530" y1="578" x2="1710" y2="578" stroke="#8a8a8a" stroke-width="1.6" />
<line x1="1351.2" y1="214" x2="1351.2" y2="1087.7" stroke="#222" stroke-width="0.8" />
<polygon points="1351.2,214 1352.1,219 1350.3,219" fill="#000" stroke="#000" stroke-width="0.3" />
<polygon points="1351.2,256.5 1350.3,251.5 1352.1,251.5" fill="#000" stroke="#000" stroke-width="0.3" />
<polygon points="1351.2,256.5 1352.1,261.5 1350.3,261.5" fill="#000" stroke="#000" stroke-width="0.3" />
<polygon points="1351.2,307 1350.3,302 1352.1,302" fill="#000" stroke="#000" stroke-width="0.3" />
<polygon points="1351.2,307 1352.1,312 1350.3,312" fill="#000" stroke="#000" stroke-width="0.3" />
<polygon points="1351.2,361.5 1350.3,356.5 1352.1,356.5" fill="#000" stroke="#000" stroke-width="0.3" />
<polygon points="1351.2,361.5 1352.1,366.5 1350.3,366.5" fill="#000" stroke="#000" stroke-width="0.3" />
<polygon points="1351.2,414.4 1350.3,409.4 1352.1,409.4" fill="#000" stroke="#000" stroke-width="0.3" />
<polygon points="1351.2,414.4 1352.1,419.4 1350.3,419.4" fill="#000" stroke="#000" stroke-width="0.3" />
<polygon points="1351.2,466.2 1350.3,461.2 1352.1,461.2" fill="#000" stroke="#000" stroke-width="0.3" />
<polygon points="1351.2,466.2 1352.1,471.2 1350.3,471.2" fill="#000" stroke="#000" stroke-width="0.3" />
<polygon points="1351.2,518.8 1350.3,513.8 1352.1,513.8" fill="#000" stroke="#000" stroke-width="0.3" />
<polygon points="1351.2,518.8 1352.1,523.8 1350.3,523.8" fill="#000" stroke="#000" stroke-width="0.3" />
<polygon points="1351.2,573.8 1350.3,568.8 1352.1,568.8" fill="#000" stroke="#000" stroke-width="0.3" />
<polygon points="1351.2,573.8 1352.1,578.8 1350.3,578.8" fill="#000" stroke="#000" stroke-width="0.3" />
<polygon points="1351.2,636 1350.3,631 1352.1,631" fill="#000" stroke="#000" stroke-width="0.3" />
<polygon points="1351.2,636 1352.1,641 1350.3,641" fill="#000" stroke="#000" stroke-width="0.3" />
<polygon points="1351.2,677 1350.3,672 1352.1,672" fill="#000" stroke="#000" stroke-width="0.3" />
<polygon points="1351.2,677 1352.1,682 1350.3,682" fill="#000" stroke="#000" stroke-width="0.3" />
<polygon points="1351.2,729.7 1350.3,724.7 1352.1,724.7" fill="#000" stroke="#000" stroke-width="0.3" />
<polygon points="1351.2,729.7 1352.1,734.7 1350.3,734.7" fill="#000" stroke="#000" stroke-width="0.3" />
<polygon points="1351.2,782.3 1350.3,777.3 1352.1,777.3" fill="#000" stroke="#000" stroke-width="0.3" />
<polygon points="1351.2,782.3 1352.1,787.3 1350.3,787.3" fill="#000" stroke="#000" stroke-width="0.3" />
<polygon points="1351.2,834.9 1350.3,829.9 1352.1,829.9" fill="#000" stroke="#000" stroke-width="0.3" />
<polygon points="1351.2,834.9 1352.1,839.9 1350.3,839.9" fill="#000" stroke="#000" stroke-width="0.3" />
<polygon points="1351.2,887.4 1350.3,882.4 1352.1,882.4" fill="#000" stroke="#000" stroke-width="0.3" />
<polygon points="1351.2,887.4 1352.1,892.4 1350.3,892.4" fill="#000" stroke="#000" stroke-width="0.3" />
<polygon points="1351.2,940.2 1350.3,935.2 1352.1,935.2" fill="#000" stroke="#000" stroke-width="0.3" />
<polygon points="1351.2,940.2 1352.1,945.2 1350.3,945.2" fill="#000" stroke="#000" stroke-width="0.3" />
<polygon points="1351.2,992.7 1350.3,987.7 1352.1,987.7" fill="#000" stroke="#000" stroke-width="0.3" />
<polygon points="1351.2,992.7 1352.1,997.7 1350.3,997.7" fill="#000" stroke="#000" stroke-width="0.3" />
<polygon points="1351.2,1045.2 1350.3,1040.2 1352.1,1040.2" fill="#000" stroke="#000" stroke-width="0.3" />
<polygon points="1351.2,1045.2 1352.1,1050.2 1350.3,1050.2" fill="#000" stroke="#000" stroke-width="0.3" />
<polygon points="1351.2,1087.7 1350.3,1082.7 1352.1,1082.7" fill="#000" stroke="#000" stroke-width="0.3" />
<text x="1346" y="235" font-family="Liberation Sans" font-size="10" font-weight="bold" font-style="italic" text-anchor="middle" dominant-baseline="central" fill="#111" transform="rotate(-90 1346 235)"  letter-spacing="0.5">1’–8”</text>
<text x="1346" y="281.5" font-family="Liberation Sans" font-size="10" font-weight="bold" font-style="italic" text-anchor="middle" dominant-baseline="central" fill="#111" transform="rotate(-90 1346 281.5)"  letter-spacing="0.5">1’–10”</text>
<text x="1346" y="334" font-family="Liberation Sans" font-size="10" font-weight="bold" font-style="italic" text-anchor="middle" dominant-baseline="central" fill="#111" transform="rotate(-90 1346 334)"  letter-spacing="0.5">2’</text>
<text x="1346" y="387.7" font-family="Liberation Sans" font-size="10" font-weight="bold" font-style="italic" text-anchor="middle" dominant-baseline="central" fill="#111" transform="rotate(-90 1346 387.7)"  letter-spacing="0.5">2’</text>
<text x="1346" y="440.05" font-family="Liberation Sans" font-size="10" font-weight="bold" font-style="italic" text-anchor="middle" dominant-baseline="central" fill="#111" transform="rotate(-90 1346 440.05)"  letter-spacing="0.5">2’</text>
<text x="1346" y="492.25" font-family="Liberation Sans" font-size="10" font-weight="bold" font-style="italic" text-anchor="middle" dominant-baseline="central" fill="#111" transform="rotate(-90 1346 492.25)"  letter-spacing="0.5">1’–10”</text>
<text x="1346" y="546.05" font-family="Liberation Sans" font-size="10" font-weight="bold" font-style="italic" text-anchor="middle" dominant-baseline="central" fill="#111" transform="rotate(-90 1346 546.05)"  letter-spacing="0.5">1’–11”</text>
<text x="1346" y="604.65" font-family="Liberation Sans" font-size="10" font-weight="bold" font-style="italic" text-anchor="middle" dominant-baseline="central" fill="#111" transform="rotate(-90 1346 604.65)"  letter-spacing="0.5">2’–2”</text>
<text x="1346" y="656.25" font-family="Liberation Sans" font-size="10" font-weight="bold" font-style="italic" text-anchor="middle" dominant-baseline="central" fill="#111" transform="rotate(-90 1346 656.25)"  letter-spacing="0.5">1’–5”</text>
<text x="1346" y="703.1" font-family="Liberation Sans" font-size="10" font-weight="bold" font-style="italic" text-anchor="middle" dominant-baseline="central" fill="#111" transform="rotate(-90 1346 703.1)"  letter-spacing="0.5">2’</text>
<text x="1346" y="755.75" font-family="Liberation Sans" font-size="10" font-weight="bold" font-style="italic" text-anchor="middle" dominant-baseline="central" fill="#111" transform="rotate(-90 1346 755.75)"  letter-spacing="0.5">2’</text>
<text x="1346" y="808.35" font-family="Liberation Sans" font-size="10" font-weight="bold" font-style="italic" text-anchor="middle" dominant-baseline="central" fill="#111" transform="rotate(-90 1346 808.35)"  letter-spacing="0.5">2’</text>
<text x="1346" y="860.9" font-family="Liberation Sans" font-size="10" font-weight="bold" font-style="italic" text-anchor="middle" dominant-baseline="central" fill="#111" transform="rotate(-90 1346 860.9)"  letter-spacing="0.5">2’</text>
<text x="1346" y="913.55" font-family="Liberation Sans" font-size="10" font-weight="bold" font-style="italic" text-anchor="middle" dominant-baseline="central" fill="#111" transform="rotate(-90 1346 913.55)"  letter-spacing="0.5">1’–10”</text>
<text x="1346" y="966.2" font-family="Liberation Sans" font-size="10" font-weight="bold" font-style="italic" text-anchor="middle" dominant-baseline="central" fill="#111" transform="rotate(-90 1346 966.2)"  letter-spacing="0.5">1’–10”</text>
<text x="1346" y="1018.7" font-family="Liberation Sans" font-size="10" font-weight="bold" font-style="italic" text-anchor="middle" dominant-baseline="central" fill="#111" transform="rotate(-90 1346 1018.7)"  letter-spacing="0.5">2’</text>
<text x="1346" y="1066.2" font-family="Liberation Sans" font-size="10" font-weight="bold" font-style="italic" text-anchor="middle" dominant-baseline="central" fill="#111" transform="rotate(-90 1346 1066.2)"  letter-spacing="0.5">1’–8”</text>
<line x1="1560.5" y1="214" x2="1560.5" y2="1087.7" stroke="#222" stroke-width="0.8" />
<polygon points="1560.5,214 1561.4,219 1559.6,219" fill="#000" stroke="#000" stroke-width="0.3" />
<polygon points="1560.5,256.5 1559.6,251.5 1561.4,251.5" fill="#000" stroke="#000" stroke-width="0.3" />
<polygon points="1560.5,256.5 1561.4,261.5 1559.6,261.5" fill="#000" stroke="#000" stroke-width="0.3" />
<polygon points="1560.5,307 1559.6,302 1561.4,302" fill="#000" stroke="#000" stroke-width="0.3" />
<polygon points="1560.5,307 1561.4,312 1559.6,312" fill="#000" stroke="#000" stroke-width="0.3" />
<polygon points="1560.5,361.5 1559.6,356.5 1561.4,356.5" fill="#000" stroke="#000" stroke-width="0.3" />
<polygon points="1560.5,361.5 1561.4,366.5 1559.6,366.5" fill="#000" stroke="#000" stroke-width="0.3" />
<polygon points="1560.5,414.4 1559.6,409.4 1561.4,409.4" fill="#000" stroke="#000" stroke-width="0.3" />
<polygon points="1560.5,414.4 1561.4,419.4 1559.6,419.4" fill="#000" stroke="#000" stroke-width="0.3" />
<polygon points="1560.5,466.2 1559.6,461.2 1561.4,461.2" fill="#000" stroke="#000" stroke-width="0.3" />
<polygon points="1560.5,466.2 1561.4,471.2 1559.6,471.2" fill="#000" stroke="#000" stroke-width="0.3" />
<polygon points="1560.5,518.8 1559.6,513.8 1561.4,513.8" fill="#000" stroke="#000" stroke-width="0.3" />
<polygon points="1560.5,518.8 1561.4,523.8 1559.6,523.8" fill="#000" stroke="#000" stroke-width="0.3" />
<polygon points="1560.5,573.8 1559.6,568.8 1561.4,568.8" fill="#000" stroke="#000" stroke-width="0.3" />
<polygon points="1560.5,573.8 1561.4,578.8 1559.6,578.8" fill="#000" stroke="#000" stroke-width="0.3" />
<polygon points="1560.5,636 1559.6,631 1561.4,631" fill="#000" stroke="#000" stroke-width="0.3" />
<polygon points="1560.5,636 1561.4,641 1559.6,641" fill="#000" stroke="#000" stroke-width="0.3" />
<polygon points="1560.5,677 1559.6,672 1561.4,672" fill="#000" stroke="#000" stroke-width="0.3" />
<polygon points="1560.5,677 1561.4,682 1559.6,682" fill="#000" stroke="#000" stroke-width="0.3" />
<polygon points="1560.5,729.7 1559.6,724.7 1561.4,724.7" fill="#000" stroke="#000" stroke-width="0.3" />
<polygon points="1560.5,729.7 1561.4,734.7 1559.6,734.7" fill="#000" stroke="#000" stroke-width="0.3" />
<polygon points="1560.5,782.3 1559.6,777.3 1561.4,777.3" fill="#000" stroke="#000" stroke-width="0.3" />
<polygon points="1560.5,782.3 1561.4,787.3 1559.6,787.3" fill="#000" stroke="#000" stroke-width="0.3" />
<polygon points="1560.5,834.9 1559.6,829.9 1561.4,829.9" fill="#000" stroke="#000" stroke-width="0.3" />
<polygon points="1560.5,834.9 1561.4,839.9 1559.6,839.9" fill="#000" stroke="#000" stroke-width="0.3" />
<polygon points="1560.5,887.4 1559.6,882.4 1561.4,882.4" fill="#000" stroke="#000" stroke-width="0.3" />
<polygon points="1560.5,887.4 1561.4,892.4 1559.6,892.4" fill="#000" stroke="#000" stroke-width="0.3" />
<polygon points="1560.5,940.2 1559.6,935.2 1561.4,935.2" fill="#000" stroke="#000" stroke-width="0.3" />
<polygon points="1560.5,940.2 1561.4,945.2 1559.6,945.2" fill="#000" stroke="#000" stroke-width="0.3" />
<polygon points="1560.5,992.7 1559.6,987.7 1561.4,987.7" fill="#000" stroke="#000" stroke-width="0.3" />
<polygon points="1560.5,992.7 1561.4,997.7 1559.6,997.7" fill="#000" stroke="#000" stroke-width="0.3" />
<polygon points="1560.5,1045.2 1559.6,1040.2 1561.4,1040.2" fill="#000" stroke="#000" stroke-width="0.3" />
<polygon points="1560.5,1045.2 1561.4,1050.2 1559.6,1050.2" fill="#000" stroke="#000" stroke-width="0.3" />
<polygon points="1560.5,1087.7 1559.6,1082.7 1561.4,1082.7" fill="#000" stroke="#000" stroke-width="0.3" />
<text x="1553.5" y="235" font-family="Liberation Sans" font-size="10" font-weight="bold" font-style="italic" text-anchor="middle" dominant-baseline="central" fill="#111" transform="rotate(-90 1553.5 235)"  letter-spacing="0.5">1’–8”</text>
<text x="1553.5" y="281.5" font-family="Liberation Sans" font-size="10" font-weight="bold" font-style="italic" text-anchor="middle" dominant-baseline="central" fill="#111" transform="rotate(-90 1553.5 281.5)"  letter-spacing="0.5">1’–10”</text>
<text x="1553.5" y="334" font-family="Liberation Sans" font-size="10" font-weight="bold" font-style="italic" text-anchor="middle" dominant-baseline="central" fill="#111" transform="rotate(-90 1553.5 334)"  letter-spacing="0.5">2’</text>
<text x="1553.5" y="387.7" font-family="Liberation Sans" font-size="10" font-weight="bold" font-style="italic" text-anchor="middle" dominant-baseline="central" fill="#111" transform="rotate(-90 1553.5 387.7)"  letter-spacing="0.5">2’</text>
<text x="1553.5" y="440.05" font-family="Liberation Sans" font-size="10" font-weight="bold" font-style="italic" text-anchor="middle" dominant-baseline="central" fill="#111" transform="rotate(-90 1553.5 440.05)"  letter-spacing="0.5">2’</text>
<text x="1553.5" y="492.25" font-family="Liberation Sans" font-size="10" font-weight="bold" font-style="italic" text-anchor="middle" dominant-baseline="central" fill="#111" transform="rotate(-90 1553.5 492.25)"  letter-spacing="0.5">2’</text>
<text x="1553.5" y="546.05" font-family="Liberation Sans" font-size="10" font-weight="bold" font-style="italic" text-anchor="middle" dominant-baseline="central" fill="#111" transform="rotate(-90 1553.5 546.05)"  letter-spacing="0.5">1’–11”</text>
<text x="1553.5" y="604.65" font-family="Liberation Sans" font-size="10" font-weight="bold" font-style="italic" text-anchor="middle" dominant-baseline="central" fill="#111" transform="rotate(-90 1553.5 604.65)"  letter-spacing="0.5">2’–2”</text>
<text x="1553.5" y="656.25" font-family="Liberation Sans" font-size="10" font-weight="bold" font-style="italic" text-anchor="middle" dominant-baseline="central" fill="#111" transform="rotate(-90 1553.5 656.25)"  letter-spacing="0.5">1’–5”</text>
<text x="1553.5" y="703.1" font-family="Liberation Sans" font-size="10" font-weight="bold" font-style="italic" text-anchor="middle" dominant-baseline="central" fill="#111" transform="rotate(-90 1553.5 703.1)"  letter-spacing="0.5">2’</text>
<text x="1553.5" y="755.75" font-family="Liberation Sans" font-size="10" font-weight="bold" font-style="italic" text-anchor="middle" dominant-baseline="central" fill="#111" transform="rotate(-90 1553.5 755.75)"  letter-spacing="0.5">2’</text>
<text x="1553.5" y="808.35" font-family="Liberation Sans" font-size="10" font-weight="bold" font-style="italic" text-anchor="middle" dominant-baseline="central" fill="#111" transform="rotate(-90 1553.5 808.35)"  letter-spacing="0.5">2’</text>
<text x="1553.5" y="860.9" font-family="Liberation Sans" font-size="10" font-weight="bold" font-style="italic" text-anchor="middle" dominant-baseline="central" fill="#111" transform="rotate(-90 1553.5 860.9)"  letter-spacing="0.5">2’</text>
<text x="1553.5" y="913.55" font-family="Liberation Sans" font-size="10" font-weight="bold" font-style="italic" text-anchor="middle" dominant-baseline="central" fill="#111" transform="rotate(-90 1553.5 913.55)"  letter-spacing="0.5">1’–10”</text>
<text x="1553.5" y="966.2" font-family="Liberation Sans" font-size="10" font-weight="bold" font-style="italic" text-anchor="middle" dominant-baseline="central" fill="#111" transform="rotate(-90 1553.5 966.2)"  letter-spacing="0.5">1’–10”</text>
<text x="1553.5" y="1018.7" font-family="Liberation Sans" font-size="10" font-weight="bold" font-style="italic" text-anchor="middle" dominant-baseline="central" fill="#111" transform="rotate(-90 1553.5 1018.7)"  letter-spacing="0.5">2’</text>
<text x="1553.5" y="1066.2" font-family="Liberation Sans" font-size="10" font-weight="bold" font-style="italic" text-anchor="middle" dominant-baseline="central" fill="#111" transform="rotate(-90 1553.5 1066.2)"  letter-spacing="0.5">1’–8”</text>
<line x1="1418.5" y1="248.2" x2="1418.5" y2="264.9" stroke="#222" stroke-width="1" />
<polyline points="1383.4,273.7 1398.4,273.7 1417.7,257" fill="none" stroke="#222" stroke-width="0.8" />
<text x="1391.25" y="266.7" font-family="Liberation Sans" font-size="10" font-weight="bold" font-style="italic" text-anchor="middle" dominant-baseline="central" fill="#111"  letter-spacing="0.5">2”</text>
<line x1="1675" y1="248.2" x2="1675" y2="264.9" stroke="#222" stroke-width="1" />
<polyline points="1639.9,273.7 1654.9,273.7 1674.2,257" fill="none" stroke="#222" stroke-width="0.8" />
<text x="1647.05" y="266.7" font-family="Liberation Sans" font-size="10" font-weight="bold" font-style="italic" text-anchor="middle" dominant-baseline="central" fill="#111"  letter-spacing="0.5">2”</text>
<line x1="1418.5" y1="298.7" x2="1418.5" y2="315.4" stroke="#222" stroke-width="1" />
<polyline points="1383.4,324.2 1398.4,324.2 1417.7,307.5" fill="none" stroke="#222" stroke-width="0.8" />
<text x="1391.25" y="317.2" font-family="Liberation Sans" font-size="10" font-weight="bold" font-style="italic" text-anchor="middle" dominant-baseline="central" fill="#111"  letter-spacing="0.5">4”</text>
<line x1="1675" y1="298.7" x2="1675" y2="315.4" stroke="#222" stroke-width="1" />
<polyline points="1639.9,324.2 1654.9,324.2 1674.2,307.5" fill="none" stroke="#222" stroke-width="0.8" />
<text x="1647.05" y="317.2" font-family="Liberation Sans" font-size="10" font-weight="bold" font-style="italic" text-anchor="middle" dominant-baseline="central" fill="#111"  letter-spacing="0.5">4”</text>
<line x1="1418.5" y1="353.2" x2="1418.5" y2="369.9" stroke="#222" stroke-width="1" />
<polyline points="1383.4,378.7 1398.4,378.7 1417.7,362" fill="none" stroke="#222" stroke-width="0.8" />
<text x="1391.25" y="371.7" font-family="Liberation Sans" font-size="10" font-weight="bold" font-style="italic" text-anchor="middle" dominant-baseline="central" fill="#111"  letter-spacing="0.5">2”</text>
<line x1="1675" y1="353.2" x2="1675" y2="369.9" stroke="#222" stroke-width="1" />
<polyline points="1639.9,378.7 1654.9,378.7 1674.2,362" fill="none" stroke="#222" stroke-width="0.8" />
<text x="1647.05" y="371.7" font-family="Liberation Sans" font-size="10" font-weight="bold" font-style="italic" text-anchor="middle" dominant-baseline="central" fill="#111"  letter-spacing="0.5">2”</text>
<line x1="1418.5" y1="406.1" x2="1418.5" y2="422.8" stroke="#222" stroke-width="1" />
<polyline points="1383.4,431.6 1398.4,431.6 1417.7,414.9" fill="none" stroke="#222" stroke-width="0.8" />
<text x="1391.25" y="424.6" font-family="Liberation Sans" font-size="10" font-weight="bold" font-style="italic" text-anchor="middle" dominant-baseline="central" fill="#111"  letter-spacing="0.5">2”</text>
<line x1="1675" y1="406.1" x2="1675" y2="422.8" stroke="#222" stroke-width="1" />
<polyline points="1639.9,431.6 1654.9,431.6 1674.2,414.9" fill="none" stroke="#222" stroke-width="0.8" />
<text x="1647.05" y="424.6" font-family="Liberation Sans" font-size="10" font-weight="bold" font-style="italic" text-anchor="middle" dominant-baseline="central" fill="#111"  letter-spacing="0.5">2”</text>
<line x1="1418.5" y1="457.9" x2="1418.5" y2="474.6" stroke="#222" stroke-width="1" />
<polyline points="1383.4,483.4 1398.4,483.4 1417.7,466.7" fill="none" stroke="#222" stroke-width="0.8" />
<text x="1391.25" y="476.4" font-family="Liberation Sans" font-size="10" font-weight="bold" font-style="italic" text-anchor="middle" dominant-baseline="central" fill="#111"  letter-spacing="0.5">2”</text>
<line x1="1675" y1="457.9" x2="1675" y2="474.6" stroke="#222" stroke-width="1" />
<polyline points="1639.9,483.4 1654.9,483.4 1674.2,466.7" fill="none" stroke="#222" stroke-width="0.8" />
<text x="1647.05" y="476.4" font-family="Liberation Sans" font-size="10" font-weight="bold" font-style="italic" text-anchor="middle" dominant-baseline="central" fill="#111"  letter-spacing="0.5">2”</text>
<line x1="1418.5" y1="510.5" x2="1418.5" y2="527.2" stroke="#222" stroke-width="1" />
<polyline points="1383.4,536 1398.4,536 1417.7,519.3" fill="none" stroke="#222" stroke-width="0.8" />
<text x="1391.25" y="529" font-family="Liberation Sans" font-size="10" font-weight="bold" font-style="italic" text-anchor="middle" dominant-baseline="central" fill="#111"  letter-spacing="0.5">4”</text>
<line x1="1675" y1="510.5" x2="1675" y2="527.2" stroke="#222" stroke-width="1" />
<polyline points="1639.9,536 1654.9,536 1674.2,519.3" fill="none" stroke="#222" stroke-width="0.8" />
<text x="1647.05" y="529" font-family="Liberation Sans" font-size="10" font-weight="bold" font-style="italic" text-anchor="middle" dominant-baseline="central" fill="#111"  letter-spacing="0.5">4”</text>
<line x1="1418.5" y1="627.7" x2="1418.5" y2="644.4" stroke="#222" stroke-width="1" />
<polyline points="1383.4,653.2 1398.4,653.2 1417.7,636.5" fill="none" stroke="#222" stroke-width="0.8" />
<text x="1391.25" y="646.2" font-family="Liberation Sans" font-size="10" font-weight="bold" font-style="italic" text-anchor="middle" dominant-baseline="central" fill="#111"  letter-spacing="0.5">4”</text>
<line x1="1675" y1="627.7" x2="1675" y2="644.4" stroke="#222" stroke-width="1" />
<polyline points="1639.9,653.2 1654.9,653.2 1674.2,636.5" fill="none" stroke="#222" stroke-width="0.8" />
<text x="1647.05" y="646.2" font-family="Liberation Sans" font-size="10" font-weight="bold" font-style="italic" text-anchor="middle" dominant-baseline="central" fill="#111"  letter-spacing="0.5">4”</text>
<line x1="1418.5" y1="668.7" x2="1418.5" y2="685.4" stroke="#222" stroke-width="1" />
<polyline points="1383.4,694.2 1398.4,694.2 1417.7,677.5" fill="none" stroke="#222" stroke-width="0.8" />
<text x="1391.25" y="687.2" font-family="Liberation Sans" font-size="10" font-weight="bold" font-style="italic" text-anchor="middle" dominant-baseline="central" fill="#111"  letter-spacing="0.5">2”</text>
<line x1="1675" y1="668.7" x2="1675" y2="685.4" stroke="#222" stroke-width="1" />
<polyline points="1639.9,694.2 1654.9,694.2 1674.2,677.5" fill="none" stroke="#222" stroke-width="0.8" />
<text x="1647.05" y="687.2" font-family="Liberation Sans" font-size="10" font-weight="bold" font-style="italic" text-anchor="middle" dominant-baseline="central" fill="#111"  letter-spacing="0.5">2”</text>
<line x1="1418.5" y1="721.4" x2="1418.5" y2="738.1" stroke="#222" stroke-width="1" />
<polyline points="1383.4,746.9 1398.4,746.9 1417.7,730.2" fill="none" stroke="#222" stroke-width="0.8" />
<text x="1391.25" y="739.9" font-family="Liberation Sans" font-size="10" font-weight="bold" font-style="italic" text-anchor="middle" dominant-baseline="central" fill="#111"  letter-spacing="0.5">2”</text>
<line x1="1675" y1="721.4" x2="1675" y2="738.1" stroke="#222" stroke-width="1" />
<polyline points="1639.9,746.9 1654.9,746.9 1674.2,730.2" fill="none" stroke="#222" stroke-width="0.8" />
<text x="1647.05" y="739.9" font-family="Liberation Sans" font-size="10" font-weight="bold" font-style="italic" text-anchor="middle" dominant-baseline="central" fill="#111"  letter-spacing="0.5">2”</text>
<line x1="1418.5" y1="774" x2="1418.5" y2="790.7" stroke="#222" stroke-width="1" />
<polyline points="1383.4,799.5 1398.4,799.5 1417.7,782.8" fill="none" stroke="#222" stroke-width="0.8" />
<text x="1391.25" y="792.5" font-family="Liberation Sans" font-size="10" font-weight="bold" font-style="italic" text-anchor="middle" dominant-baseline="central" fill="#111"  letter-spacing="0.5">2”</text>
<line x1="1675" y1="774" x2="1675" y2="790.7" stroke="#222" stroke-width="1" />
<polyline points="1639.9,799.5 1654.9,799.5 1674.2,782.8" fill="none" stroke="#222" stroke-width="0.8" />
<text x="1647.05" y="792.5" font-family="Liberation Sans" font-size="10" font-weight="bold" font-style="italic" text-anchor="middle" dominant-baseline="central" fill="#111"  letter-spacing="0.5">2”</text>
<line x1="1418.5" y1="826.6" x2="1418.5" y2="843.3" stroke="#222" stroke-width="1" />
<polyline points="1383.4,852.1 1398.4,852.1 1417.7,835.4" fill="none" stroke="#222" stroke-width="0.8" />
<text x="1391.25" y="845.1" font-family="Liberation Sans" font-size="10" font-weight="bold" font-style="italic" text-anchor="middle" dominant-baseline="central" fill="#111"  letter-spacing="0.5">2”</text>
<line x1="1675" y1="826.6" x2="1675" y2="843.3" stroke="#222" stroke-width="1" />
<polyline points="1639.9,852.1 1654.9,852.1 1674.2,835.4" fill="none" stroke="#222" stroke-width="0.8" />
<text x="1647.05" y="845.1" font-family="Liberation Sans" font-size="10" font-weight="bold" font-style="italic" text-anchor="middle" dominant-baseline="central" fill="#111"  letter-spacing="0.5">2”</text>
<line x1="1418.5" y1="879.1" x2="1418.5" y2="895.8" stroke="#222" stroke-width="1" />
<polyline points="1383.4,904.6 1398.4,904.6 1417.7,887.9" fill="none" stroke="#222" stroke-width="0.8" />
<text x="1391.25" y="897.6" font-family="Liberation Sans" font-size="10" font-weight="bold" font-style="italic" text-anchor="middle" dominant-baseline="central" fill="#111"  letter-spacing="0.5">2”</text>
<line x1="1675" y1="879.1" x2="1675" y2="895.8" stroke="#222" stroke-width="1" />
<polyline points="1639.9,904.6 1654.9,904.6 1674.2,887.9" fill="none" stroke="#222" stroke-width="0.8" />
<text x="1647.05" y="897.6" font-family="Liberation Sans" font-size="10" font-weight="bold" font-style="italic" text-anchor="middle" dominant-baseline="central" fill="#111"  letter-spacing="0.5">2”</text>
<line x1="1418.5" y1="984.4" x2="1418.5" y2="1001.1" stroke="#222" stroke-width="1" />
<polyline points="1383.4,1009.9 1398.4,1009.9 1417.7,993.2" fill="none" stroke="#222" stroke-width="0.8" />
<text x="1391.25" y="1002.9" font-family="Liberation Sans" font-size="10" font-weight="bold" font-style="italic" text-anchor="middle" dominant-baseline="central" fill="#111"  letter-spacing="0.5">2”</text>
<line x1="1675" y1="984.4" x2="1675" y2="1001.1" stroke="#222" stroke-width="1" />
<polyline points="1639.9,1009.9 1654.9,1009.9 1674.2,993.2" fill="none" stroke="#222" stroke-width="0.8" />
<text x="1647.05" y="1002.9" font-family="Liberation Sans" font-size="10" font-weight="bold" font-style="italic" text-anchor="middle" dominant-baseline="central" fill="#111"  letter-spacing="0.5">2”</text>
<line x1="1418.5" y1="1036.9" x2="1418.5" y2="1053.6" stroke="#222" stroke-width="1" />
<polyline points="1383.4,1062.4 1398.4,1062.4 1417.7,1045.7" fill="none" stroke="#222" stroke-width="0.8" />
<text x="1391.25" y="1055.4" font-family="Liberation Sans" font-size="10" font-weight="bold" font-style="italic" text-anchor="middle" dominant-baseline="central" fill="#111"  letter-spacing="0.5">2”</text>
<line x1="1675" y1="1036.9" x2="1675" y2="1053.6" stroke="#222" stroke-width="1" />
<polyline points="1639.9,1062.4 1654.9,1062.4 1674.2,1045.7" fill="none" stroke="#222" stroke-width="0.8" />
<text x="1647.05" y="1055.4" font-family="Liberation Sans" font-size="10" font-weight="bold" font-style="italic" text-anchor="middle" dominant-baseline="central" fill="#111"  letter-spacing="0.5">2”</text>
<line x1="1256.4" y1="249.2" x2="1366.8" y2="249.2" stroke="#444" stroke-width="0.8" />
<polygon points="1256.4,249.2 1261.4,248.3 1261.4,250.1" fill="#000" stroke="#000" stroke-width="0.3" />
<polygon points="1366.8,249.2 1361.8,250.1 1361.8,248.3" fill="#000" stroke="#000" stroke-width="0.3" />
<text x="1311.65" y="242.2" font-family="Liberation Sans" font-size="10" font-weight="bold" font-style="italic" text-anchor="middle" dominant-baseline="central" fill="#111"  letter-spacing="0.5">4’–7”</text>
<line x1="1370.3" y1="249.2" x2="1443.7" y2="249.2" stroke="#444" stroke-width="0.8" />
<polygon points="1370.3,249.2 1375.3,248.3 1375.3,250.1" fill="#000" stroke="#000" stroke-width="0.3" />
<polygon points="1443.7,249.2 1438.7,250.1 1438.7,248.3" fill="#000" stroke="#000" stroke-width="0.3" />
<text x="1407.45" y="242.2" font-family="Liberation Sans" font-size="10" font-weight="bold" font-style="italic" text-anchor="middle" dominant-baseline="central" fill="#111"  letter-spacing="0.5">3’</text>
<line x1="1530" y1="249.2" x2="1603.5" y2="249.2" stroke="#444" stroke-width="0.8" />
<polygon points="1530,249.2 1535,248.3 1535,250.1" fill="#000" stroke="#000" stroke-width="0.3" />
<polygon points="1603.5,249.2 1598.5,250.1 1598.5,248.3" fill="#000" stroke="#000" stroke-width="0.3" />
<text x="1567.05" y="242.2" font-family="Liberation Sans" font-size="10" font-weight="bold" font-style="italic" text-anchor="middle" dominant-baseline="central" fill="#111"  letter-spacing="0.5">3’</text>
<line x1="1607.6" y1="249.2" x2="1717.6" y2="249.2" stroke="#444" stroke-width="0.8" />
<polygon points="1607.6,249.2 1612.6,248.3 1612.6,250.1" fill="#000" stroke="#000" stroke-width="0.3" />
<polygon points="1717.6,249.2 1712.6,250.1 1712.6,248.3" fill="#000" stroke="#000" stroke-width="0.3" />
<text x="1662.65" y="242.2" font-family="Liberation Sans" font-size="10" font-weight="bold" font-style="italic" text-anchor="middle" dominant-baseline="central" fill="#111"  letter-spacing="0.5">4’–7”</text>
<line x1="1250.4" y1="151.5" x2="1487" y2="151.5" stroke="#333" stroke-width="0.9" />
<polygon points="1250.4,151.5 1259.9,149.75 1259.9,153.25" fill="#000" stroke="#000" stroke-width="0.3" />
<polygon points="1487,151.5 1477.5,153.25 1477.5,149.75" fill="#000" stroke="#000" stroke-width="0.3" />
<line x1="1487" y1="151.5" x2="1723.9" y2="151.5" stroke="#333" stroke-width="0.9" />
<polygon points="1487,151.5 1496.5,149.75 1496.5,153.25" fill="#000" stroke="#000" stroke-width="0.3" />
<polygon points="1723.9,151.5 1714.4,153.25 1714.4,149.75" fill="#000" stroke="#000" stroke-width="0.3" />
<line x1="1244.5" y1="176.5" x2="1487" y2="176.5" stroke="#333" stroke-width="0.9" />
<polygon points="1244.5,176.5 1254,174.75 1254,178.25" fill="#000" stroke="#000" stroke-width="0.3" />
<polygon points="1487,176.5 1477.5,178.25 1477.5,174.75" fill="#000" stroke="#000" stroke-width="0.3" />
<line x1="1487" y1="176.5" x2="1730" y2="176.5" stroke="#333" stroke-width="0.9" />
<polygon points="1487,176.5 1496.5,174.75 1496.5,178.25" fill="#000" stroke="#000" stroke-width="0.3" />
<polygon points="1730,176.5 1720.5,178.25 1720.5,174.75" fill="#000" stroke="#000" stroke-width="0.3" />
<line x1="1244.5" y1="170.9" x2="1244.5" y2="192.8" stroke="#444" stroke-width="0.9" />
<line x1="1730" y1="170.9" x2="1730" y2="192.8" stroke="#444" stroke-width="0.9" />
<text x="1369.25" y="140.4" font-family="Liberation Sans" font-size="15" font-weight="normal" font-style="italic" text-anchor="middle" dominant-baseline="central" fill="#111"  letter-spacing="1.5">9’–9”</text>
<text x="1606.25" y="140.4" font-family="Liberation Sans" font-size="15" font-weight="normal" font-style="italic" text-anchor="middle" dominant-baseline="central" fill="#111"  letter-spacing="1.5">9’–9”</text>
<text x="1365.75" y="165.9" font-family="Liberation Sans" font-size="15" font-weight="normal" font-style="italic" text-anchor="middle" dominant-baseline="central" fill="#111"  letter-spacing="1.5">10’</text>
<text x="1609.25" y="165.9" font-family="Liberation Sans" font-size="15" font-weight="normal" font-style="italic" text-anchor="middle" dominant-baseline="central" fill="#111"  letter-spacing="1.5">10’</text>
<line x1="1794.6" y1="207.7" x2="1794.6" y2="573.8" stroke="#333" stroke-width="0.9" />
<polygon points="1794.6,207.7 1796.35,217.2 1792.85,217.2" fill="#000" stroke="#000" stroke-width="0.3" />
<polygon points="1794.6,573.8 1792.85,564.3 1796.35,564.3" fill="#000" stroke="#000" stroke-width="0.3" />
<line x1="1794.6" y1="573.8" x2="1794.6" y2="940.2" stroke="#333" stroke-width="0.9" />
<polygon points="1794.6,573.8 1796.35,583.3 1792.85,583.3" fill="#000" stroke="#000" stroke-width="0.3" />
<polygon points="1794.6,940.2 1792.85,930.7 1796.35,930.7" fill="#000" stroke="#000" stroke-width="0.3" />
<line x1="1794.6" y1="940.2" x2="1794.6" y2="1094" stroke="#333" stroke-width="0.9" />
<polygon points="1794.6,940.2 1796.35,949.7 1792.85,949.7" fill="#000" stroke="#000" stroke-width="0.3" />
<polygon points="1794.6,1094 1792.85,1084.5 1796.35,1084.5" fill="#000" stroke="#000" stroke-width="0.3" />
<line x1="1766" y1="224.3" x2="1766" y2="558.1" stroke="#333" stroke-width="0.9" />
<polygon points="1766,224.3 1767.75,233.8 1764.25,233.8" fill="#000" stroke="#000" stroke-width="0.3" />
<polygon points="1766,558.1 1764.25,548.6 1767.75,548.6" fill="#000" stroke="#000" stroke-width="0.3" />
<line x1="1766" y1="589.4" x2="1766" y2="923.2" stroke="#333" stroke-width="0.9" />
<polygon points="1766,589.4 1767.75,598.9 1764.25,598.9" fill="#000" stroke="#000" stroke-width="0.3" />
<polygon points="1766,923.2 1764.25,913.7 1767.75,913.7" fill="#000" stroke="#000" stroke-width="0.3" />
<line x1="1766" y1="956.5" x2="1766" y2="1077.5" stroke="#333" stroke-width="0.9" />
<polygon points="1766,956.5 1767.75,966 1764.25,966" fill="#000" stroke="#000" stroke-width="0.3" />
<polygon points="1766,1077.5 1764.25,1068 1767.75,1068" fill="#000" stroke="#000" stroke-width="0.3" />
<line x1="1748.5" y1="224.3" x2="1771.3" y2="224.3" stroke="#444" stroke-width="0.9" />
<line x1="1748.5" y1="558.1" x2="1771.3" y2="558.1" stroke="#444" stroke-width="0.9" />
<line x1="1748.5" y1="589.4" x2="1771.3" y2="589.4" stroke="#444" stroke-width="0.9" />
<line x1="1748.5" y1="923.2" x2="1771.3" y2="923.2" stroke="#444" stroke-width="0.9" />
<line x1="1748.5" y1="956.5" x2="1771.3" y2="956.5" stroke="#444" stroke-width="0.9" />
<line x1="1748.5" y1="1077.5" x2="1771.3" y2="1077.5" stroke="#444" stroke-width="0.9" />
<text x="1777.1" y="389.95" font-family="Liberation Sans" font-size="15" font-weight="normal" font-style="italic" text-anchor="middle" dominant-baseline="central" fill="#111" transform="rotate(-90 1777.1 389.95)"  letter-spacing="1.5">13’–9”</text>
<text x="1805.4" y="389.95" font-family="Liberation Sans" font-size="15" font-weight="normal" font-style="italic" text-anchor="middle" dominant-baseline="central" fill="#111" transform="rotate(-90 1805.4 389.95)"  letter-spacing="1.5">15’–1”</text>
<text x="1778.3" y="751.65" font-family="Liberation Sans" font-size="15" font-weight="normal" font-style="italic" text-anchor="middle" dominant-baseline="central" fill="#111" transform="rotate(-90 1778.3 751.65)"  letter-spacing="1.5">13’–9”</text>
<text x="1806.2" y="751.65" font-family="Liberation Sans" font-size="15" font-weight="normal" font-style="italic" text-anchor="middle" dominant-baseline="central" fill="#111" transform="rotate(-90 1806.2 751.65)"  letter-spacing="1.5">15’–1”</text>
<text x="1778.3" y="1012.75" font-family="Liberation Sans" font-size="15" font-weight="normal" font-style="italic" text-anchor="middle" dominant-baseline="central" fill="#111" transform="rotate(-90 1778.3 1012.75)"  letter-spacing="1.5">5’</text>
<text x="1806.2" y="1014.65" font-family="Liberation Sans" font-size="15" font-weight="normal" font-style="italic" text-anchor="middle" dominant-baseline="central" fill="#111" transform="rotate(-90 1806.2 1014.65)"  letter-spacing="1.5">6’–4”</text>
<text x="1362.5" y="940.3" font-family="Liberation Sans" font-size="9" fill="#000" dominant-baseline="central" textLength="60" lengthAdjust="spacingAndGlyphs">9' 9" x 6" x 6"</text>
<text x="1563.3" y="940.3" font-family="Liberation Sans" font-size="9" fill="#000" dominant-baseline="central" textLength="60" lengthAdjust="spacingAndGlyphs">9' 9" x 6" x 6"</text>
<text transform="translate(412.36,1458.9) scale(0.8861,1)" x="0" y="0" font-family="Liberation Sans" font-weight="bold" font-size="86.63" fill="#0a0b0d">FULL</text>
<text transform="translate(625.97,1458.9) scale(0.9395,1)" x="0" y="0" font-family="Liberation Sans" font-weight="bold" font-size="86.63" fill="#0a0b0d">ARCHITECTURAL</text>
<text transform="translate(1340,1458.9) scale(0.9132,1)" x="0" y="0" font-family="Liberation Sans" font-weight="bold" font-size="86.63" fill="#0a0b0d">PLANS</text>
<text transform="translate(271.65,1536.9) scale(0.9543,1)" x="0" y="0" font-family="Liberation Sans" font-weight="bold" font-size="57.56" fill="#0a0b0d">CONSTRUCTION</text>
<text transform="translate(725.2,1536.9) scale(0.9088,1)" x="0" y="0" font-family="Liberation Sans" font-weight="bold" font-size="57.56" fill="#0a0b0d">READY</text>
<text transform="translate(920.44,1536.9) scale(1.0534,1)" x="0" y="0" font-family="Liberation Sans" font-weight="bold" font-size="57.56" fill="#0a0b0d">-</text>
<text transform="translate(954.15,1536.9) scale(0.8958,1)" x="0" y="0" font-family="Liberation Sans" font-weight="bold" font-size="57.56" fill="#0a0b0d">IMPERIAL</text>
<text transform="translate(1210.96,1536.9) scale(1.0016,1)" x="0" y="0" font-family="Liberation Sans" font-weight="bold" font-size="57.56" fill="#0a0b0d">&amp;</text>
<text transform="translate(1262.65,1536.9) scale(0.9205,1)" x="0" y="0" font-family="Liberation Sans" font-weight="bold" font-size="57.56" fill="#0a0b0d">METRIC</text>
<text transform="translate(1477.53,1536.9) scale(0.9131,1)" x="0" y="0" font-family="Liberation Sans" font-weight="bold" font-size="57.56" fill="#0a0b0d">VERSIONS</text>
<line x1="1809.2" y1="1374.8" x2="1809.2" y2="1560.9" stroke="#0a0b0d" stroke-width="3.6" />
<line x1="1961" y1="1374.8" x2="1961" y2="1560.9" stroke="#0a0b0d" stroke-width="3.6" />
<line x1="1793.2" y1="1385.2" x2="1809.2" y2="1385.2" stroke="#0a0b0d" stroke-width="3.6" />
<line x1="1961" y1="1385.2" x2="1977" y2="1385.2" stroke="#0a0b0d" stroke-width="3.6" />
<line x1="1820" y1="1385.2" x2="1950.7" y2="1385.2" stroke="#0a0b0d" stroke-width="3.6" />
<line x1="1793.2" y1="1407.9" x2="1977" y2="1407.9" stroke="#0a0b0d" stroke-width="3.6" />
<line x1="1793.2" y1="1426.5" x2="1809.2" y2="1426.5" stroke="#0a0b0d" stroke-width="3.6" />
<line x1="1961" y1="1426.5" x2="1977" y2="1426.5" stroke="#0a0b0d" stroke-width="3.6" />
<line x1="1820" y1="1426.5" x2="1867.49" y2="1426.5" stroke="#0a0b0d" stroke-width="3.6" />
<line x1="1903.27" y1="1426.5" x2="1950.7" y2="1426.5" stroke="#0a0b0d" stroke-width="3.6" />
<line x1="1793.2" y1="1444.6" x2="1809.2" y2="1444.6" stroke="#0a0b0d" stroke-width="3.6" />
<line x1="1961" y1="1444.6" x2="1977" y2="1444.6" stroke="#0a0b0d" stroke-width="3.6" />
<line x1="1820" y1="1444.6" x2="1860.85" y2="1444.6" stroke="#0a0b0d" stroke-width="3.6" />
<line x1="1909.94" y1="1444.6" x2="1950.7" y2="1444.6" stroke="#0a0b0d" stroke-width="3.6" />
<line x1="1793.2" y1="1464.1" x2="1809.2" y2="1464.1" stroke="#0a0b0d" stroke-width="3.6" />
<line x1="1961" y1="1464.1" x2="1977" y2="1464.1" stroke="#0a0b0d" stroke-width="3.6" />
<line x1="1820" y1="1464.1" x2="1853.7" y2="1464.1" stroke="#0a0b0d" stroke-width="3.6" />
<line x1="1917.12" y1="1464.1" x2="1950.7" y2="1464.1" stroke="#0a0b0d" stroke-width="3.6" />
<line x1="1793.2" y1="1483.1" x2="1809.2" y2="1483.1" stroke="#0a0b0d" stroke-width="3.6" />
<line x1="1961" y1="1483.1" x2="1977" y2="1483.1" stroke="#0a0b0d" stroke-width="3.6" />
<line x1="1820" y1="1483.1" x2="1950.7" y2="1483.1" stroke="#0a0b0d" stroke-width="3.6" />
<line x1="1793.2" y1="1501.1" x2="1977" y2="1501.1" stroke="#0a0b0d" stroke-width="3.6" />
<line x1="1793.2" y1="1519.4" x2="1809.2" y2="1519.4" stroke="#0a0b0d" stroke-width="3.6" />
<line x1="1961" y1="1519.4" x2="1977" y2="1519.4" stroke="#0a0b0d" stroke-width="3.6" />
<line x1="1820" y1="1519.4" x2="1950.7" y2="1519.4" stroke="#0a0b0d" stroke-width="3.6" />
<line x1="1793.2" y1="1552.2" x2="1809.2" y2="1552.2" stroke="#0a0b0d" stroke-width="3.6" />
<line x1="1961" y1="1552.2" x2="1977" y2="1552.2" stroke="#0a0b0d" stroke-width="3.6" />
<line x1="1821.39" y1="1552.2" x2="1949.59" y2="1552.2" stroke="#0a0b0d" stroke-width="3.6" />
<polygon points="1875.88,1398.1 1879.92,1398.1 1820.22,1560.9 1816.18,1560.9" fill="#0a0b0d" stroke="#0a0b0d" stroke-width="0.01" />
<polygon points="1890.78,1398.1 1894.82,1398.1 1954.82,1560.9 1950.78,1560.9" fill="#0a0b0d" stroke="#0a0b0d" stroke-width="0.01" />
<text transform="translate(1791.81,1579.2) scale(0.9607,1)" x="0" y="0" font-family="Liberation Sans" font-weight="bold" font-size="16.13" fill="#0a0b0d">AMERICAN</text>
<text transform="translate(1879.72,1579.2) scale(0.9472,1)" x="0" y="0" font-family="Liberation Sans" font-weight="bold" font-size="16.13" fill="#0a0b0d">ARCHITECTS</text>
</svg>
</body></html>
